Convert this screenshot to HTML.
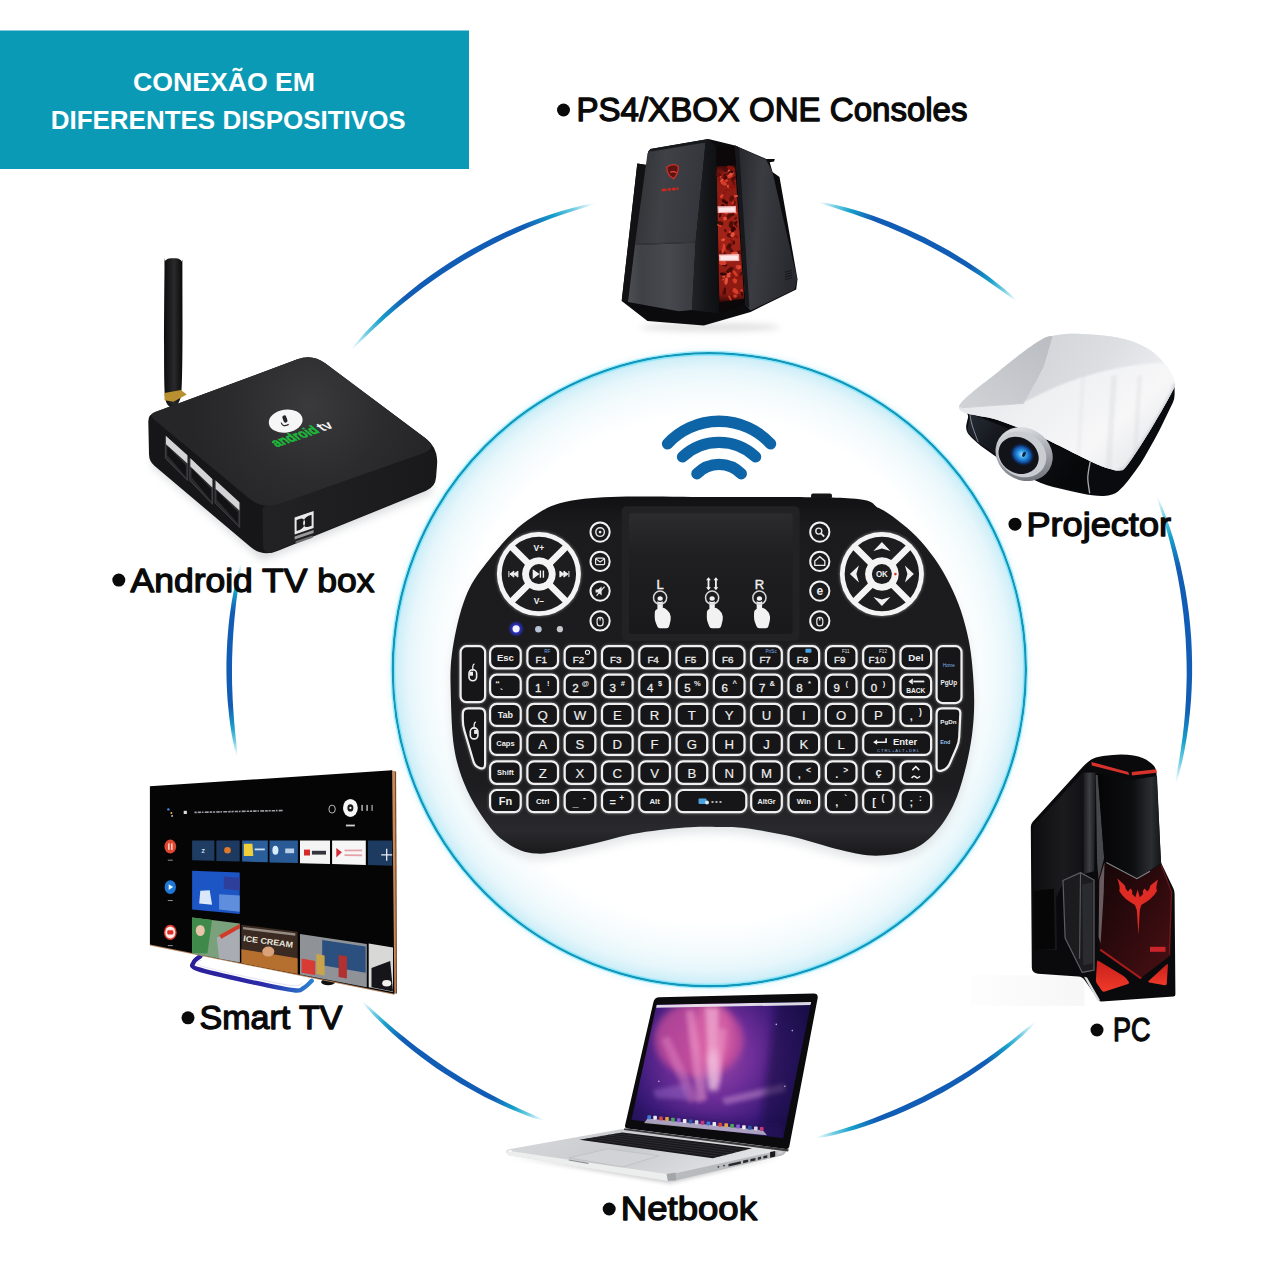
<!DOCTYPE html>
<html><head><meta charset="utf-8"><title>Conexão em diferentes dispositivos</title>
<style>html,body{margin:0;padding:0;background:#fff}body{width:1280px;height:1280px;overflow:hidden;font-family:"Liberation Sans",sans-serif}svg{display:block}text{font-family:"Liberation Sans",sans-serif}</style></head>
<body>
<svg width="1280" height="1280" viewBox="0 0 1280 1280">
<defs>
<linearGradient id="ag0" gradientUnits="userSpaceOnUse" x1="349.7" y1="351.6" x2="597.2" y2="202.9"><stop offset="0" stop-color="#7fd4ec" stop-opacity="0"/><stop offset="0.08" stop-color="#35b8d6" stop-opacity="0.7"/><stop offset="0.15" stop-color="#18a0cc"/><stop offset="0.26" stop-color="#115cb4"/><stop offset="0.74" stop-color="#115cb4"/><stop offset="0.85" stop-color="#18a0cc"/><stop offset="0.92" stop-color="#35b8d6" stop-opacity="0.7"/><stop offset="1" stop-color="#7fd4ec" stop-opacity="0"/></linearGradient>
<linearGradient id="ag1" gradientUnits="userSpaceOnUse" x1="817.3" y1="201.9" x2="1017.9" y2="301.9"><stop offset="0" stop-color="#7fd4ec" stop-opacity="0"/><stop offset="0.08" stop-color="#35b8d6" stop-opacity="0.7"/><stop offset="0.15" stop-color="#18a0cc"/><stop offset="0.26" stop-color="#115cb4"/><stop offset="0.74" stop-color="#115cb4"/><stop offset="0.85" stop-color="#18a0cc"/><stop offset="0.92" stop-color="#35b8d6" stop-opacity="0.7"/><stop offset="1" stop-color="#7fd4ec" stop-opacity="0"/></linearGradient>
<linearGradient id="ag2" gradientUnits="userSpaceOnUse" x1="1156" y1="493.7" x2="1175.1" y2="785.8"><stop offset="0" stop-color="#7fd4ec" stop-opacity="0"/><stop offset="0.08" stop-color="#35b8d6" stop-opacity="0.7"/><stop offset="0.15" stop-color="#18a0cc"/><stop offset="0.26" stop-color="#115cb4"/><stop offset="0.74" stop-color="#115cb4"/><stop offset="0.85" stop-color="#18a0cc"/><stop offset="0.92" stop-color="#35b8d6" stop-opacity="0.7"/><stop offset="1" stop-color="#7fd4ec" stop-opacity="0"/></linearGradient>
<linearGradient id="ag3" gradientUnits="userSpaceOnUse" x1="1036.7" y1="1020.8" x2="813.2" y2="1138.4"><stop offset="0" stop-color="#7fd4ec" stop-opacity="0"/><stop offset="0.08" stop-color="#35b8d6" stop-opacity="0.7"/><stop offset="0.15" stop-color="#18a0cc"/><stop offset="0.26" stop-color="#115cb4"/><stop offset="0.74" stop-color="#115cb4"/><stop offset="0.85" stop-color="#18a0cc"/><stop offset="0.92" stop-color="#35b8d6" stop-opacity="0.7"/><stop offset="1" stop-color="#7fd4ec" stop-opacity="0"/></linearGradient>
<linearGradient id="ag4" gradientUnits="userSpaceOnUse" x1="545.1" y1="1120.8" x2="361" y2="1000.2"><stop offset="0" stop-color="#7fd4ec" stop-opacity="0"/><stop offset="0.08" stop-color="#35b8d6" stop-opacity="0.7"/><stop offset="0.15" stop-color="#18a0cc"/><stop offset="0.26" stop-color="#115cb4"/><stop offset="0.74" stop-color="#115cb4"/><stop offset="0.85" stop-color="#18a0cc"/><stop offset="0.92" stop-color="#35b8d6" stop-opacity="0.7"/><stop offset="1" stop-color="#7fd4ec" stop-opacity="0"/></linearGradient>
<linearGradient id="ag5" gradientUnits="userSpaceOnUse" x1="237.2" y1="757.2" x2="241.5" y2="561.7"><stop offset="0" stop-color="#7fd4ec" stop-opacity="0"/><stop offset="0.08" stop-color="#35b8d6" stop-opacity="0.7"/><stop offset="0.15" stop-color="#18a0cc"/><stop offset="0.26" stop-color="#115cb4"/><stop offset="0.74" stop-color="#115cb4"/><stop offset="0.85" stop-color="#18a0cc"/><stop offset="0.92" stop-color="#35b8d6" stop-opacity="0.7"/><stop offset="1" stop-color="#7fd4ec" stop-opacity="0"/></linearGradient>
<radialGradient id="glow" gradientUnits="userSpaceOnUse" cx="709.3" cy="669.7" r="317"><stop offset="0" stop-color="#ffffff"/><stop offset="0.80" stop-color="#ffffff"/><stop offset="0.89" stop-color="#f4fbfd"/><stop offset="0.95" stop-color="#e6f6fb"/><stop offset="0.985" stop-color="#d0eff8"/><stop offset="1" stop-color="#b8e6f5"/></radialGradient>
<filter id="b2" x="-10%" y="-10%" width="120%" height="120%"><feGaussianBlur stdDeviation="2.2"/></filter>
<linearGradient id="kbg" x1="0" y1="0" x2="0" y2="1"><stop offset="0" stop-color="#111113"/><stop offset="0.08" stop-color="#1b1b1d"/><stop offset="0.8" stop-color="#1d1d20"/><stop offset="0.93" stop-color="#2a2a2e"/><stop offset="1" stop-color="#18181a"/></linearGradient>
<filter id="kshadow" x="-10%" y="-10%" width="120%" height="130%"><feGaussianBlur stdDeviation="5"/></filter>
<filter id="kglow" x="-20%" y="-20%" width="140%" height="140%"><feGaussianBlur stdDeviation="1.1"/></filter>
<linearGradient id="tpg" x1="0" y1="0" x2="0" y2="1"><stop offset="0" stop-color="#2c2c2f"/><stop offset="0.35" stop-color="#1f1f22"/><stop offset="1" stop-color="#19191b"/></linearGradient>
<linearGradient id="antg" x1="0" y1="0" x2="1" y2="0"><stop offset="0" stop-color="#0c0c0d"/><stop offset="0.55" stop-color="#2a2a2c"/><stop offset="1" stop-color="#0a0a0b"/></linearGradient>
<filter id="tbsh" x="-10%" y="-10%" width="120%" height="130%"><feGaussianBlur stdDeviation="4"/></filter>
<linearGradient id="tbfr" x1="0" y1="0" x2="1" y2="0"><stop offset="0" stop-color="#222224"/><stop offset="1" stop-color="#19191b"/></linearGradient>
<radialGradient id="tbtop" gradientUnits="userSpaceOnUse" cx="310" cy="406.3" r="120"><stop offset="0" stop-color="#3a3a3d"/><stop offset="0.6" stop-color="#2c2c2f"/><stop offset="1" stop-color="#262628"/></radialGradient>
<filter id="csh" x="-20%" y="-100%" width="140%" height="300%"><feGaussianBlur stdDeviation="3"/></filter>
<filter id="cb1" x="-20%" y="-20%" width="140%" height="140%"><feGaussianBlur stdDeviation="0.7"/></filter>
<linearGradient id="cg1" x1="0" y1="0" x2="1" y2="0.15"><stop offset="0" stop-color="#303135"/><stop offset="0.45" stop-color="#404146"/><stop offset="1" stop-color="#35363b"/></linearGradient>
<linearGradient id="cg2" x1="0" y1="0" x2="1" y2="0"><stop offset="0" stop-color="#4d4e53"/><stop offset="0.2" stop-color="#404146"/><stop offset="0.6" stop-color="#48494e"/><stop offset="1" stop-color="#393a3f"/></linearGradient>
<linearGradient id="cg4" x1="0" y1="0" x2="1" y2="0"><stop offset="0" stop-color="#222327"/><stop offset="0.5" stop-color="#16171a"/><stop offset="1" stop-color="#0e0f11"/></linearGradient>
<linearGradient id="cred" x1="0" y1="0" x2="0" y2="1"><stop offset="0" stop-color="#3a0907"/><stop offset="0.06" stop-color="#8a1a12"/><stop offset="0.5" stop-color="#a32318"/><stop offset="0.94" stop-color="#8a1a12"/><stop offset="1" stop-color="#3a0907"/></linearGradient>
<linearGradient id="cg3" x1="0" y1="0" x2="1" y2="0.25"><stop offset="0" stop-color="#24252a"/><stop offset="0.45" stop-color="#3b3c42"/><stop offset="1" stop-color="#2a2b30"/></linearGradient>
<filter id="pjb1" x="-20%" y="-20%" width="140%" height="140%"><feGaussianBlur stdDeviation="1.2"/></filter>
<linearGradient id="pjf" x1="0" y1="0" x2="1" y2="0.5"><stop offset="0" stop-color="#262c35"/><stop offset="0.35" stop-color="#13161b"/><stop offset="1" stop-color="#07080a"/></linearGradient>
<clipPath id="pjclip"><path d="M959 407.4C959 399.6 983.7 383.8 996.9 372.9C1010.1 361.9 1028.4 347.8 1038.1 341.6C1047.8 335.3 1047.8 336.7 1055 335.4C1062.2 334.1 1070.6 333.5 1081.2 333.9C1091.9 334.3 1107.8 335.4 1118.8 337.8C1129.7 340.2 1139.1 343.6 1146.9 348.1C1154.7 352.7 1161 359.3 1165.6 365C1170.2 370.7 1173.7 377.5 1174.6 382.2C1175.6 387 1175.6 385.1 1171.2 393.5C1166.9 401.9 1156.1 420.5 1148.8 432.5C1141.4 444.5 1132 459 1127.2 465.3C1122.3 471.6 1122.8 469.8 1119.7 470.4C1116.6 470.9 1113.4 470.1 1108.4 468.5C1103.4 466.9 1101.1 466.3 1089.7 461C1078.3 455.7 1055.5 443.5 1040 436.6C1024.5 429.8 1010.4 424.6 996.9 419.8C983.4 414.9 959 415.2 959 407.4Z"/></clipPath>
<linearGradient id="pjt" x1="0" y1="0" x2="1" y2="0.8"><stop offset="0" stop-color="#d2d4d8"/><stop offset="0.5" stop-color="#e9eaec"/><stop offset="1" stop-color="#f1f2f3"/></linearGradient>
<linearGradient id="pjl1" x1="0" y1="1" x2="1" y2="0"><stop offset="0" stop-color="#d2d4d8"/><stop offset="1" stop-color="#b8bbc0"/></linearGradient>
<linearGradient id="pjl2" x1="0" y1="0" x2="1" y2="0.3"><stop offset="0" stop-color="#cfd2d6"/><stop offset="0.6" stop-color="#dcdee2"/><stop offset="1" stop-color="#ecedef"/></linearGradient>
<linearGradient id="pjl3" x1="0" y1="0" x2="1" y2="0.6"><stop offset="0" stop-color="#dfe1e4"/><stop offset="0.4" stop-color="#eeeff1"/><stop offset="0.75" stop-color="#f7f7f8"/><stop offset="1" stop-color="#e6e7ea"/></linearGradient>
<linearGradient id="pjl" x1="0" y1="0" x2="1" y2="1"><stop offset="0" stop-color="#f4f5f6"/><stop offset="0.4" stop-color="#b4b8be"/><stop offset="1" stop-color="#5e6268"/></linearGradient>
<radialGradient id="pjb"><stop offset="0" stop-color="#a8e4ff"/><stop offset="0.35" stop-color="#2b9ae6"/><stop offset="0.7" stop-color="#10489a"/><stop offset="1" stop-color="#0c1a36" stop-opacity="0"/></radialGradient>
<filter id="pcb" x="-20%" y="-20%" width="140%" height="140%"><feGaussianBlur stdDeviation="0.8"/></filter>
<linearGradient id="pcs" x1="0" y1="0" x2="1" y2="0"><stop offset="0" stop-color="#fbfbfb"/><stop offset="1" stop-color="#ececec"/></linearGradient>
<linearGradient id="pcside" x1="0" y1="0" x2="1" y2="0"><stop offset="0" stop-color="#0e0e10"/><stop offset="0.6" stop-color="#1b1b1e"/><stop offset="1" stop-color="#121214"/></linearGradient>
<linearGradient id="pcbev" x1="0" y1="0" x2="1" y2="0"><stop offset="0" stop-color="#1a1a1d"/><stop offset="0.5" stop-color="#3e3f43"/><stop offset="1" stop-color="#18181a"/></linearGradient>
<linearGradient id="pcfu" x1="0" y1="0" x2="1" y2="0"><stop offset="0" stop-color="#050506"/><stop offset="0.55" stop-color="#0d0e10"/><stop offset="0.85" stop-color="#2b2d31"/><stop offset="1" stop-color="#141517"/></linearGradient>
<linearGradient id="pcfl" x1="0" y1="0" x2="1" y2="1"><stop offset="0" stop-color="#140607"/><stop offset="0.5" stop-color="#2e0a0d"/><stop offset="1" stop-color="#4a1014"/></linearGradient>
<linearGradient id="pcr" x1="0" y1="0" x2="0" y2="1"><stop offset="0" stop-color="#c81f1a"/><stop offset="1" stop-color="#f03a2a"/></linearGradient>
<linearGradient id="tvst" x1="0" y1="0" x2="1" y2="0"><stop offset="0" stop-color="#2a1f9a"/><stop offset="0.6" stop-color="#2b2aa8"/><stop offset="1" stop-color="#2c7fd0"/></linearGradient>
<filter id="lpb" x="-20%" y="-50%" width="140%" height="200%"><feGaussianBlur stdDeviation="2.2"/></filter>
<filter id="lpb2" x="-30%" y="-30%" width="160%" height="160%"><feGaussianBlur stdDeviation="3.5"/></filter>
<linearGradient id="lpbase" x1="0" y1="0" x2="1" y2="0.3"><stop offset="0" stop-color="#d9dadc"/><stop offset="0.5" stop-color="#c9cacd"/><stop offset="1" stop-color="#e4e5e7"/></linearGradient>
<clipPath id="lpclip"><path d="M656.5 1004.8L811.2 1001.9L783.1 1138.1L631.5 1119.8Z"/></clipPath>
<radialGradient id="lpd" gradientUnits="userSpaceOnUse" cx="711.9" cy="1055.5" r="105"><stop offset="0" stop-color="#a04aa8"/><stop offset="0.4" stop-color="#6d2d98"/><stop offset="0.75" stop-color="#3a1a78"/><stop offset="1" stop-color="#1e0f52"/></radialGradient>
</defs>
<rect x="0" y="30.5" width="469" height="138.5" fill="#0b9ab5"/>
<text x="224" y="91" font-size="26" font-weight="bold" fill="#fff" text-anchor="middle" textLength="182" lengthAdjust="spacingAndGlyphs">CONEXÃO EM</text>
<text x="228.2" y="128.7" font-size="26" font-weight="bold" fill="#fff" text-anchor="middle" textLength="355" lengthAdjust="spacingAndGlyphs">DIFERENTES DISPOSITIVOS</text>
<path d="M349.7 351.6L357.1 341.7L365.2 332.6L373.7 323.7L382.5 315.1L391.5 306.8L400.8 298.7L410.2 290.9L419.9 283.3L429.8 276L439.9 269L450.1 262.2L460.6 255.8L471.2 249.6L482 243.7L492.9 238.1L504 232.8L515.2 227.8L526.6 223.1L538.1 218.7L549.7 214.7L561.4 211L573.2 207.7L585.1 204.7L597.2 202.9L597.2 202.9L585.7 207L574.1 210.7L562.5 214.6L551 218.6L539.7 223L528.4 227.6L517.3 232.4L506.3 237.6L495.4 242.9L484.6 248.6L474 254.4L463.5 260.6L453.1 267L443 273.6L432.9 280.4L423.1 287.5L413.4 294.9L403.9 302.4L394.5 310.2L385.3 318.2L376.3 326.4L367.5 334.8L358.8 343.3L349.7 351.6Z" fill="url(#ag0)"/>
<path d="M817.3 201.9L826.8 203L836 205L845.2 207.3L854.3 209.8L863.4 212.6L872.4 215.6L881.3 218.7L890.1 222.1L898.9 225.7L907.6 229.4L916.2 233.4L924.8 237.5L933.2 241.9L941.6 246.4L949.8 251L957.9 255.9L966 261L973.9 266.2L981.7 271.6L989.3 277.1L996.8 282.9L1004.2 288.8L1011.4 295L1017.9 301.9L1017.9 301.9L1009.9 296.9L1002.3 291.3L994.6 285.9L986.9 280.5L979.1 275.3L971.2 270.2L963.3 265.3L955.2 260.4L947.1 255.7L938.9 251.2L930.6 246.8L922.3 242.5L913.8 238.4L905.4 234.5L896.8 230.7L888.2 227L879.5 223.5L870.7 220.1L861.9 216.9L853 213.8L844.1 210.9L835.2 208L826.2 205.3L817.3 201.9Z" fill="url(#ag1)"/>
<path d="M1156 493.7L1161.5 504.9L1166 516.5L1170.1 528.3L1173.8 540.2L1177.1 552.2L1180.2 564.2L1182.8 576.4L1185.2 588.6L1187.2 600.9L1188.9 613.3L1190.2 625.7L1191.2 638.1L1191.8 650.6L1192.1 663L1192.1 675.5L1191.7 688L1191 700.4L1189.9 712.8L1188.5 725.2L1186.7 737.5L1184.6 749.8L1182.1 762L1179.1 774L1175.1 785.8L1175.1 785.8L1176.8 773.5L1179 761.3L1180.9 749.1L1182.6 736.9L1184 724.7L1185.1 712.4L1185.9 700.1L1186.4 687.8L1186.7 675.4L1186.6 663.1L1186.2 650.8L1185.6 638.5L1184.6 626.2L1183.4 613.9L1181.8 601.7L1180 589.5L1177.9 577.4L1175.4 565.3L1172.7 553.3L1169.7 541.3L1166.5 529.4L1163 517.5L1159.3 505.7L1156 493.7Z" fill="url(#ag2)"/>
<path d="M1036.7 1020.8L1029.7 1028.9L1021.9 1036.2L1013.8 1043.3L1005.6 1050.1L997.2 1056.7L988.6 1063.1L979.9 1069.3L971 1075.3L962 1081.1L952.9 1086.6L943.6 1092L934.1 1097.1L924.6 1101.9L915 1106.6L905.2 1111L895.3 1115.2L885.4 1119.1L875.3 1122.8L865.2 1126.2L855 1129.4L844.7 1132.3L834.3 1134.9L823.9 1137.2L813.2 1138.4L813.2 1138.4L823.3 1134.8L833.5 1131.8L843.6 1128.7L853.7 1125.4L863.7 1121.9L873.7 1118.2L883.5 1114.3L893.3 1110.3L903 1106L912.6 1101.6L922.1 1096.9L931.5 1092.1L940.9 1087.1L950.1 1081.9L959.2 1076.5L968.2 1070.9L977.1 1065.1L985.8 1059.2L994.5 1053.1L1003 1046.8L1011.5 1040.4L1019.8 1033.8L1028.1 1027.1L1036.7 1020.8Z" fill="url(#ag3)"/>
<path d="M545.1 1120.8L536 1118.7L527.2 1115.7L518.6 1112.3L510 1108.8L501.5 1105L493.1 1101.1L484.7 1096.9L476.5 1092.6L468.4 1088.1L460.3 1083.4L452.4 1078.6L444.5 1073.5L436.8 1068.4L429.2 1063L421.7 1057.5L414.3 1051.8L407.1 1046L399.9 1040L393 1033.9L386.1 1027.6L379.4 1021.1L372.9 1014.5L366.6 1007.7L361 1000.2L361 1000.2L368.3 1006L375.1 1012.2L382 1018.4L388.9 1024.5L395.9 1030.4L403.1 1036.3L410.2 1042L417.5 1047.7L424.9 1053.1L432.4 1058.5L440 1063.8L447.6 1068.9L455.3 1073.8L463.2 1078.7L471.1 1083.4L479 1088L487.1 1092.4L495.2 1096.7L503.4 1100.9L511.7 1105L520 1108.9L528.4 1112.7L536.9 1116.5L545.1 1120.8Z" fill="url(#ag4)"/>
<path d="M237.2 757.2L234.6 749.3L233 741.2L231.5 733.1L230.3 725L229.2 716.8L228.4 708.6L227.6 700.4L227.1 692.2L226.7 683.9L226.5 675.7L226.4 667.4L226.5 659.2L226.8 650.9L227.2 642.7L227.8 634.4L228.5 626.2L229.4 618L230.5 609.9L231.7 601.7L233.2 593.6L234.7 585.5L236.5 577.4L238.6 569.5L241.5 561.7L241.5 561.7L240.9 570L239.6 578.1L238.4 586.1L237.3 594.2L236.2 602.3L235.3 610.5L234.5 618.6L233.8 626.7L233.2 634.8L232.7 643L232.4 651.1L232.1 659.3L232 667.4L232 675.6L232.1 683.8L232.4 691.9L232.7 700.1L233.2 708.2L233.8 716.4L234.4 724.5L235.2 732.6L236.1 740.8L237 748.9L237.2 757.2Z" fill="url(#ag5)"/>
<circle cx="709.3" cy="669.7" r="319" fill="none" stroke="#d4f0f9" stroke-width="5" filter="url(#b2)" opacity="0.35"/>
<circle cx="709.3" cy="669.7" r="316.5" fill="url(#glow)"/>
<circle cx="709.3" cy="669.7" r="316.5" fill="none" stroke="#1297bb" stroke-width="2.5"/><circle cx="709.3" cy="669.7" r="314.7" fill="none" stroke="#7fe6fa" stroke-width="1.3" opacity="0.85"/><circle cx="709.3" cy="669.7" r="318.3" fill="none" stroke="#8feafc" stroke-width="1.2" opacity="0.8"/>
<g fill="none" stroke="#0d64a6" stroke-width="11.3" stroke-linecap="round"><path d="M667.5 443.8 A70.2 70.2 0 0 1 770.6 443.8"/><path d="M682.5 456.9 A53.4 53.4 0 0 1 755.6 456.9"/><path d="M696.9 473.8 A30.9 30.9 0 0 1 741.3 473.8"/></g>
<path d="M584.4 498.8C616.5 494.9 675.5 497.1 720 497.1C764.5 497 824.8 496.6 851.2 498.4C877.7 500.2 871.1 504.4 878.8 508C886.5 511.6 891.4 515.5 897.6 520.2C903.9 525 910.2 530 916.4 536.4C922.6 542.9 929.2 550.7 934.8 558.8C940.4 566.8 945.8 576.2 950.1 585C954.5 593.8 958 602.2 961.1 611.2C964.1 620.3 966.6 629.9 968.5 639.2C970.4 648.6 971.5 656.6 972.4 667.2C973.4 677.9 974.3 691.8 974.2 703.1C974.1 714.4 973.5 723.8 972 735.1C970.5 746.3 968.1 758.8 965 770.5C961.9 782.2 958.3 795 953.2 805.5C948.1 816 941.4 826.1 934.4 833.5C927.3 840.9 920.5 846.4 910.8 850.1C901 853.8 887.4 855.8 875.8 855.8C864.1 855.8 854.4 853.3 840.8 850.1C827.1 847 809.7 840.6 793.9 837C778.2 833.4 758.6 829.9 746.2 828.2C733.9 826.6 730.2 827.1 720 826.9C709.8 826.8 699.6 826.2 685 827.4C670.4 828.5 649.3 830.9 632.5 833.9C615.7 837 600.4 842.5 584.4 845.8C568.3 849 549.7 854.5 536.2 853.6C522.8 852.8 512.8 847.2 503.4 840.5C494.1 833.8 486.9 823.1 480.2 813.4C473.6 803.6 468 793 463.6 781.9C459.2 770.8 456.1 760.7 454 746.9C451.9 733 451.3 714.1 450.9 698.8C450.6 683.4 449.7 671 451.8 655C453.9 639 458.3 617.2 463.6 602.5C468.9 587.8 473.1 580.3 483.8 566.6C494.4 552.9 510.7 531.6 527.5 520.2C544.3 508.9 552.3 502.7 584.4 498.8Z" fill="#9aa4aa" opacity="0.28" transform="translate(0,6)" filter="url(#kshadow)"/>
<path d="M584.4 498.8C616.5 494.9 675.5 497.1 720 497.1C764.5 497 824.8 496.6 851.2 498.4C877.7 500.2 871.1 504.4 878.8 508C886.5 511.6 891.4 515.5 897.6 520.2C903.9 525 910.2 530 916.4 536.4C922.6 542.9 929.2 550.7 934.8 558.8C940.4 566.8 945.8 576.2 950.1 585C954.5 593.8 958 602.2 961.1 611.2C964.1 620.3 966.6 629.9 968.5 639.2C970.4 648.6 971.5 656.6 972.4 667.2C973.4 677.9 974.3 691.8 974.2 703.1C974.1 714.4 973.5 723.8 972 735.1C970.5 746.3 968.1 758.8 965 770.5C961.9 782.2 958.3 795 953.2 805.5C948.1 816 941.4 826.1 934.4 833.5C927.3 840.9 920.5 846.4 910.8 850.1C901 853.8 887.4 855.8 875.8 855.8C864.1 855.8 854.4 853.3 840.8 850.1C827.1 847 809.7 840.6 793.9 837C778.2 833.4 758.6 829.9 746.2 828.2C733.9 826.6 730.2 827.1 720 826.9C709.8 826.8 699.6 826.2 685 827.4C670.4 828.5 649.3 830.9 632.5 833.9C615.7 837 600.4 842.5 584.4 845.8C568.3 849 549.7 854.5 536.2 853.6C522.8 852.8 512.8 847.2 503.4 840.5C494.1 833.8 486.9 823.1 480.2 813.4C473.6 803.6 468 793 463.6 781.9C459.2 770.8 456.1 760.7 454 746.9C451.9 733 451.3 714.1 450.9 698.8C450.6 683.4 449.7 671 451.8 655C453.9 639 458.3 617.2 463.6 602.5C468.9 587.8 473.1 580.3 483.8 566.6C494.4 552.9 510.7 531.6 527.5 520.2C544.3 508.9 552.3 502.7 584.4 498.8Z" fill="url(#kbg)"/>
<rect x="811" y="493.6" width="21" height="5" rx="2" fill="#151517"/>
<rect x="621.6" y="506.2" width="178.1" height="134.8" rx="5" fill="#222224"/>
<rect x="629" y="513.2" width="163.6" height="120.8" rx="3" fill="url(#tpg)"/>
<g fill="#f2f2f2"><path d="M654.8 612.2Q654.9 609.7 657.3 609L660.7 608Q663.6 607.2 665.8 609.1L667.5 610.6Q670.6 613.2 670.7 616.4L670.7 616.7Q670.9 619.7 670.1 622.6L669.1 626.3Q668.6 628.2 666.6 628.2L659.9 628.2Q657.9 628.2 657.2 626.3L655.7 622.5Q654.7 619.7 654.7 616.7Z"/><rect x="657.4" y="596.2" width="5.4" height="16" rx="2.7"/></g><circle cx="660.1" cy="597.7" r="6.6" fill="none" stroke="#d8d8d8" stroke-width="1.5"/><circle cx="660.1" cy="597.7" r="3.6" fill="none" stroke="#1c1c1e" stroke-width="1.2"/><text x="660.1" y="589.2" font-size="13" fill="#f2f2f2" stroke="#f2f2f2" stroke-width="0.4" text-anchor="middle">L</text>
<g fill="#f2f2f2"><path d="M706.9 612.2Q706.9 609.7 709.3 609L712.7 608Q715.6 607.2 717.9 609.1L719.6 610.6Q722.6 613.2 722.8 616.4L722.8 616.7Q722.9 619.7 722.1 622.6L721.1 626.3Q720.6 628.2 718.6 628.2L711.9 628.2Q709.9 628.2 709.2 626.3L707.8 622.5Q706.7 619.7 706.8 616.7Z"/><rect x="709.4" y="596.2" width="5.4" height="16" rx="2.7"/></g><circle cx="712.1" cy="597.7" r="6.6" fill="none" stroke="#d8d8d8" stroke-width="1.5"/><circle cx="712.1" cy="597.7" r="3.6" fill="none" stroke="#1c1c1e" stroke-width="1.2"/><path d="M708.5 588.7v-10M715.9 588.7v-10" stroke="#f2f2f2" stroke-width="1.8" fill="none"/><path d="M706.1 580.2l2.4 -3l2.4 3zM706.1 587.2l2.4 3l2.4 -3zM713.5 580.2l2.4 -3l2.4 3zM713.5 587.2l2.4 3l2.4 -3z" fill="#f2f2f2"/>
<g fill="#f2f2f2"><path d="M754.1 612.2Q754.2 609.7 756.6 609L760 608Q762.9 607.2 765.2 609.1L766.8 610.6Q769.9 613.2 770 616.4L770 616.7Q770.2 619.7 769.4 622.6L768.4 626.3Q767.9 628.2 765.9 628.2L759.2 628.2Q757.2 628.2 756.5 626.3L755 622.5Q754 619.7 754 616.7Z"/><rect x="756.7" y="596.2" width="5.4" height="16" rx="2.7"/></g><circle cx="759.4" cy="597.7" r="6.6" fill="none" stroke="#d8d8d8" stroke-width="1.5"/><circle cx="759.4" cy="597.7" r="3.6" fill="none" stroke="#1c1c1e" stroke-width="1.2"/><text x="759.4" y="589.2" font-size="13" fill="#f2f2f2" stroke="#f2f2f2" stroke-width="0.4" text-anchor="middle">R</text>
<circle cx="538.9" cy="574.1" r="43" fill="#fff" opacity="0.25" filter="url(#kglow)"/><circle cx="538.9" cy="574.1" r="42" fill="#f4f4f4"/><path d="M567.4 550.2 A37.2 37.2 0 0 1 567.4 597.9 L552.9 583.4 A16.8 16.8 0 0 0 552.9 564.7Z" fill="#1d1d20"/><path d="M562.7 602.6 A37.2 37.2 0 0 1 515 602.6 L529.6 588 A16.8 16.8 0 0 0 548.2 588Z" fill="#1d1d20"/><path d="M510.3 597.9 A37.2 37.2 0 0 1 510.3 550.2 L524.9 564.7 A16.8 16.8 0 0 0 524.9 583.4Z" fill="#1d1d20"/><path d="M515 545.5 A37.2 37.2 0 0 1 562.7 545.5 L548.2 560.1 A16.8 16.8 0 0 0 529.6 560.1Z" fill="#1d1d20"/><circle cx="538.9" cy="574.1" r="10" fill="#1d1d20"/><text x="538.9" y="550.6" font-size="8.5" font-weight="bold" fill="#f0f0f0" text-anchor="middle">V+</text><text x="538.9" y="603.6" font-size="8.5" font-weight="bold" fill="#f0f0f0" text-anchor="middle">V–</text><path d="M509.9 574.1l4 -3v6zM513.9 574.1l4 -3v6zM508.9 571.1v6" fill="#f0f0f0" stroke="#f0f0f0" stroke-width="1"/><path d="M567.9 574.1l-4 -3v6zM563.9 574.1l-4 -3v6zM568.9 571.1v6" fill="#f0f0f0" stroke="#f0f0f0" stroke-width="1"/><path d="M533.4 570.5l5 3.6l-5 3.6zM540.4 570.5v7.2M543.4 570.5v7.2" fill="#f0f0f0" stroke="#f0f0f0" stroke-width="1.4"/>
<circle cx="881.9" cy="574.1" r="43" fill="#fff" opacity="0.25" filter="url(#kglow)"/><circle cx="881.9" cy="574.1" r="42" fill="#f4f4f4"/><path d="M910.4 550.2 A37.2 37.2 0 0 1 910.4 597.9 L895.9 583.4 A16.8 16.8 0 0 0 895.9 564.7Z" fill="#1d1d20"/><path d="M905.7 602.6 A37.2 37.2 0 0 1 858 602.6 L872.6 588 A16.8 16.8 0 0 0 891.2 588Z" fill="#1d1d20"/><path d="M853.3 597.9 A37.2 37.2 0 0 1 853.3 550.2 L867.9 564.7 A16.8 16.8 0 0 0 867.9 583.4Z" fill="#1d1d20"/><path d="M858 545.5 A37.2 37.2 0 0 1 905.7 545.5 L891.2 560.1 A16.8 16.8 0 0 0 872.6 560.1Z" fill="#1d1d20"/><circle cx="881.9" cy="574.1" r="10" fill="#1d1d20"/><text x="881.9" y="577.4" font-size="9" font-weight="bold" fill="#f0f0f0" text-anchor="middle" textLength="12" lengthAdjust="spacingAndGlyphs">OK</text><path d="M881.9 542.1l8.5 9l-8.5 -2.5l-8.5 2.5zM881.9 606.1l8.5 -9l-8.5 2.5l-8.5 -2.5zM849.9 574.1l9 -8.5l-2.5 8.5l2.5 8.5zM913.9 574.1l-9 -8.5l2.5 8.5l-2.5 8.5z" fill="#f0f0f0"/><circle cx="895.4" cy="574.1" r="1.3" fill="#d23a2a"/>
<circle cx="600.1" cy="532.1" r="9.6" fill="#1b1b1d" stroke="#f2f2f2" stroke-width="2"/><circle cx="600.1" cy="532.1" r="4.3" fill="none" stroke="#e8e8e8" stroke-width="1.4"/><circle cx="600.1" cy="532.1" r="1.4" fill="#e8e8e8"/>
<circle cx="600.1" cy="561.4" r="9.6" fill="#1b1b1d" stroke="#f2f2f2" stroke-width="2"/><rect x="595.6" y="558.2" width="9" height="6.4" rx="1" fill="none" stroke="#e8e8e8" stroke-width="1.2"/><path d="M595.6 558.6l4.5 3.4l4.5 -3.4" fill="none" stroke="#e8e8e8" stroke-width="1.1"/>
<circle cx="600.1" cy="591.1" r="9.6" fill="#1b1b1d" stroke="#f2f2f2" stroke-width="2"/><path d="M595.6 589.6h2.5l3.5 -3v9l-3.5 -3h-2.5z" fill="#e8e8e8"/><path d="M604.6 586.6l-8 9" stroke="#e8e8e8" stroke-width="1.2"/>
<circle cx="600.1" cy="620.9" r="9.6" fill="#1b1b1d" stroke="#f2f2f2" stroke-width="2"/><rect x="597.1" y="617.3" width="6" height="8.6" rx="3" fill="none" stroke="#e8e8e8" stroke-width="1.2"/><path d="M600.1 617.3v3.2" stroke="#e8e8e8" stroke-width="1.2"/>
<circle cx="819.8" cy="532.1" r="9.6" fill="#1b1b1d" stroke="#f2f2f2" stroke-width="2"/><circle cx="818.8" cy="531.1" r="3" fill="none" stroke="#e8e8e8" stroke-width="1.4"/><path d="M821 533.4l3.2 3.2" stroke="#e8e8e8" stroke-width="1.8"/>
<circle cx="819.8" cy="561.4" r="9.6" fill="#1b1b1d" stroke="#f2f2f2" stroke-width="2"/><path d="M814.8 560.9l5 -4.2l5 4.2v4.5h-10z" fill="none" stroke="#e8e8e8" stroke-width="1.3"/>
<circle cx="819.8" cy="591.1" r="9.6" fill="#1b1b1d" stroke="#f2f2f2" stroke-width="2"/><text x="819.8" y="594.7" font-size="12" font-weight="bold" fill="#e8e8e8" text-anchor="middle">e</text>
<circle cx="819.8" cy="620.9" r="9.6" fill="#1b1b1d" stroke="#f2f2f2" stroke-width="2"/><rect x="816.8" y="617.3" width="6" height="8.6" rx="3" fill="none" stroke="#e8e8e8" stroke-width="1.2"/><path d="M819.8 617.3v3.2" stroke="#e8e8e8" stroke-width="1.2"/>
<circle cx="516.1" cy="628.8" r="6.5" fill="#2a33d8" opacity="0.85" filter="url(#kglow)"/><circle cx="516.1" cy="628.8" r="3.6" fill="#f4f4ff"/>
<circle cx="538.4" cy="629.2" r="3.3" fill="#b9c3d6"/>
<circle cx="559.9" cy="629.2" r="3.1" fill="#c8c8cc"/>
<g fill="none" stroke="#fff" stroke-width="3.4" opacity="0.3" filter="url(#kglow)"><rect x="490.1" y="646.2" width="30.6" height="22.1" rx="6.5"/><rect x="527.4" y="646.2" width="30.6" height="22.1" rx="6.5"/><rect x="564.7" y="646.2" width="30.6" height="22.1" rx="6.5"/><rect x="602" y="646.2" width="30.6" height="22.1" rx="6.5"/><rect x="639.3" y="646.2" width="30.6" height="22.1" rx="6.5"/><rect x="676.6" y="646.2" width="30.6" height="22.1" rx="6.5"/><rect x="713.9" y="646.2" width="30.6" height="22.1" rx="6.5"/><rect x="751.2" y="646.2" width="30.6" height="22.1" rx="6.5"/><rect x="788.5" y="646.2" width="30.6" height="22.1" rx="6.5"/><rect x="825.9" y="646.2" width="30.6" height="22.1" rx="6.5"/><rect x="863.2" y="646.2" width="30.6" height="22.1" rx="6.5"/><rect x="900.5" y="646.2" width="30.6" height="22.1" rx="6.5"/><rect x="490.1" y="674.7" width="30.6" height="22.5" rx="6.5"/><rect x="527.4" y="674.7" width="30.6" height="22.5" rx="6.5"/><rect x="564.7" y="674.7" width="30.6" height="22.5" rx="6.5"/><rect x="602" y="674.7" width="30.6" height="22.5" rx="6.5"/><rect x="639.3" y="674.7" width="30.6" height="22.5" rx="6.5"/><rect x="676.6" y="674.7" width="30.6" height="22.5" rx="6.5"/><rect x="713.9" y="674.7" width="30.6" height="22.5" rx="6.5"/><rect x="751.2" y="674.7" width="30.6" height="22.5" rx="6.5"/><rect x="788.5" y="674.7" width="30.6" height="22.5" rx="6.5"/><rect x="825.9" y="674.7" width="30.6" height="22.5" rx="6.5"/><rect x="863.2" y="674.7" width="30.6" height="22.5" rx="6.5"/><rect x="900.5" y="674.7" width="30.6" height="22.5" rx="6.5"/><rect x="490.1" y="703.8" width="30.6" height="22.1" rx="6.5"/><rect x="527.4" y="703.8" width="30.6" height="22.1" rx="6.5"/><rect x="564.7" y="703.8" width="30.6" height="22.1" rx="6.5"/><rect x="602" y="703.8" width="30.6" height="22.1" rx="6.5"/><rect x="639.3" y="703.8" width="30.6" height="22.1" rx="6.5"/><rect x="676.6" y="703.8" width="30.6" height="22.1" rx="6.5"/><rect x="713.9" y="703.8" width="30.6" height="22.1" rx="6.5"/><rect x="751.2" y="703.8" width="30.6" height="22.1" rx="6.5"/><rect x="788.5" y="703.8" width="30.6" height="22.1" rx="6.5"/><rect x="825.9" y="703.8" width="30.6" height="22.1" rx="6.5"/><rect x="863.2" y="703.8" width="30.6" height="22.1" rx="6.5"/><rect x="900.5" y="703.8" width="30.6" height="22.1" rx="6.5"/><rect x="490.1" y="732.4" width="30.6" height="22.5" rx="6.5"/><rect x="527.4" y="732.4" width="30.6" height="22.5" rx="6.5"/><rect x="564.7" y="732.4" width="30.6" height="22.5" rx="6.5"/><rect x="602" y="732.4" width="30.6" height="22.5" rx="6.5"/><rect x="639.3" y="732.4" width="30.6" height="22.5" rx="6.5"/><rect x="676.6" y="732.4" width="30.6" height="22.5" rx="6.5"/><rect x="713.9" y="732.4" width="30.6" height="22.5" rx="6.5"/><rect x="751.2" y="732.4" width="30.6" height="22.5" rx="6.5"/><rect x="788.5" y="732.4" width="30.6" height="22.5" rx="6.5"/><rect x="825.9" y="732.4" width="30.6" height="22.5" rx="6.5"/><rect x="863.2" y="732.4" width="67.9" height="22.5" rx="6.5"/><rect x="490.1" y="761.3" width="30.6" height="22.5" rx="6.5"/><rect x="527.4" y="761.3" width="30.6" height="22.5" rx="6.5"/><rect x="564.7" y="761.3" width="30.6" height="22.5" rx="6.5"/><rect x="602" y="761.3" width="30.6" height="22.5" rx="6.5"/><rect x="639.3" y="761.3" width="30.6" height="22.5" rx="6.5"/><rect x="676.6" y="761.3" width="30.6" height="22.5" rx="6.5"/><rect x="713.9" y="761.3" width="30.6" height="22.5" rx="6.5"/><rect x="751.2" y="761.3" width="30.6" height="22.5" rx="6.5"/><rect x="788.5" y="761.3" width="30.6" height="22.5" rx="6.5"/><rect x="825.9" y="761.3" width="30.6" height="22.5" rx="6.5"/><rect x="863.2" y="761.3" width="30.6" height="22.5" rx="6.5"/><rect x="900.5" y="761.3" width="30.6" height="22.5" rx="6.5"/><rect x="490.1" y="790" width="30.6" height="22.1" rx="6.5"/><rect x="527.4" y="790" width="30.6" height="22.1" rx="6.5"/><rect x="564.7" y="790" width="30.6" height="22.1" rx="6.5"/><rect x="602" y="790" width="30.6" height="22.1" rx="6.5"/><rect x="639.3" y="790" width="30.6" height="22.1" rx="6.5"/><rect x="676.6" y="790" width="69.7" height="22.1" rx="6.5"/><rect x="751.2" y="790" width="30.6" height="22.1" rx="6.5"/><rect x="788.5" y="790" width="30.6" height="22.1" rx="6.5"/><rect x="825.9" y="790" width="30.6" height="22.1" rx="6.5"/><rect x="863.2" y="790" width="30.6" height="22.1" rx="6.5"/><rect x="900.5" y="790" width="30.6" height="22.1" rx="6.5"/><rect x="460.6" y="646.2" width="24.5" height="56" rx="6"/><rect x="936.6" y="646.2" width="24.9" height="56.9" rx="6"/><path d="M462.8 713.9Q462.8 708.4 468.2 708.4L479.6 708.4Q485.1 708.4 485.1 713.9L485.1 764.1Q485.1 769.6 480 768.1L480 768.1Q475 766.6 473.4 761.3L464.3 730.3Q462.8 725 462.8 719.5Z"/><path d="M936.6 713.9Q936.6 708.4 942.1 708.4L955.1 708.4Q960.6 708.4 960.3 713.9L959.2 737Q958.9 742.5 956.7 747.5L949.7 763.7Q947.5 768.8 942.3 770.4L941.8 770.6Q936.6 772.2 936.6 766.8Z"/></g>
<g fill="#161618" stroke="#f0f0f0" stroke-width="2.2"><rect x="490.1" y="646.2" width="30.6" height="22.1" rx="6.5"/><rect x="527.4" y="646.2" width="30.6" height="22.1" rx="6.5"/><rect x="564.7" y="646.2" width="30.6" height="22.1" rx="6.5"/><rect x="602" y="646.2" width="30.6" height="22.1" rx="6.5"/><rect x="639.3" y="646.2" width="30.6" height="22.1" rx="6.5"/><rect x="676.6" y="646.2" width="30.6" height="22.1" rx="6.5"/><rect x="713.9" y="646.2" width="30.6" height="22.1" rx="6.5"/><rect x="751.2" y="646.2" width="30.6" height="22.1" rx="6.5"/><rect x="788.5" y="646.2" width="30.6" height="22.1" rx="6.5"/><rect x="825.9" y="646.2" width="30.6" height="22.1" rx="6.5"/><rect x="863.2" y="646.2" width="30.6" height="22.1" rx="6.5"/><rect x="900.5" y="646.2" width="30.6" height="22.1" rx="6.5"/><rect x="490.1" y="674.7" width="30.6" height="22.5" rx="6.5"/><rect x="527.4" y="674.7" width="30.6" height="22.5" rx="6.5"/><rect x="564.7" y="674.7" width="30.6" height="22.5" rx="6.5"/><rect x="602" y="674.7" width="30.6" height="22.5" rx="6.5"/><rect x="639.3" y="674.7" width="30.6" height="22.5" rx="6.5"/><rect x="676.6" y="674.7" width="30.6" height="22.5" rx="6.5"/><rect x="713.9" y="674.7" width="30.6" height="22.5" rx="6.5"/><rect x="751.2" y="674.7" width="30.6" height="22.5" rx="6.5"/><rect x="788.5" y="674.7" width="30.6" height="22.5" rx="6.5"/><rect x="825.9" y="674.7" width="30.6" height="22.5" rx="6.5"/><rect x="863.2" y="674.7" width="30.6" height="22.5" rx="6.5"/><rect x="900.5" y="674.7" width="30.6" height="22.5" rx="6.5"/><rect x="490.1" y="703.8" width="30.6" height="22.1" rx="6.5"/><rect x="527.4" y="703.8" width="30.6" height="22.1" rx="6.5"/><rect x="564.7" y="703.8" width="30.6" height="22.1" rx="6.5"/><rect x="602" y="703.8" width="30.6" height="22.1" rx="6.5"/><rect x="639.3" y="703.8" width="30.6" height="22.1" rx="6.5"/><rect x="676.6" y="703.8" width="30.6" height="22.1" rx="6.5"/><rect x="713.9" y="703.8" width="30.6" height="22.1" rx="6.5"/><rect x="751.2" y="703.8" width="30.6" height="22.1" rx="6.5"/><rect x="788.5" y="703.8" width="30.6" height="22.1" rx="6.5"/><rect x="825.9" y="703.8" width="30.6" height="22.1" rx="6.5"/><rect x="863.2" y="703.8" width="30.6" height="22.1" rx="6.5"/><rect x="900.5" y="703.8" width="30.6" height="22.1" rx="6.5"/><rect x="490.1" y="732.4" width="30.6" height="22.5" rx="6.5"/><rect x="527.4" y="732.4" width="30.6" height="22.5" rx="6.5"/><rect x="564.7" y="732.4" width="30.6" height="22.5" rx="6.5"/><rect x="602" y="732.4" width="30.6" height="22.5" rx="6.5"/><rect x="639.3" y="732.4" width="30.6" height="22.5" rx="6.5"/><rect x="676.6" y="732.4" width="30.6" height="22.5" rx="6.5"/><rect x="713.9" y="732.4" width="30.6" height="22.5" rx="6.5"/><rect x="751.2" y="732.4" width="30.6" height="22.5" rx="6.5"/><rect x="788.5" y="732.4" width="30.6" height="22.5" rx="6.5"/><rect x="825.9" y="732.4" width="30.6" height="22.5" rx="6.5"/><rect x="863.2" y="732.4" width="67.9" height="22.5" rx="6.5"/><rect x="490.1" y="761.3" width="30.6" height="22.5" rx="6.5"/><rect x="527.4" y="761.3" width="30.6" height="22.5" rx="6.5"/><rect x="564.7" y="761.3" width="30.6" height="22.5" rx="6.5"/><rect x="602" y="761.3" width="30.6" height="22.5" rx="6.5"/><rect x="639.3" y="761.3" width="30.6" height="22.5" rx="6.5"/><rect x="676.6" y="761.3" width="30.6" height="22.5" rx="6.5"/><rect x="713.9" y="761.3" width="30.6" height="22.5" rx="6.5"/><rect x="751.2" y="761.3" width="30.6" height="22.5" rx="6.5"/><rect x="788.5" y="761.3" width="30.6" height="22.5" rx="6.5"/><rect x="825.9" y="761.3" width="30.6" height="22.5" rx="6.5"/><rect x="863.2" y="761.3" width="30.6" height="22.5" rx="6.5"/><rect x="900.5" y="761.3" width="30.6" height="22.5" rx="6.5"/><rect x="490.1" y="790" width="30.6" height="22.1" rx="6.5"/><rect x="527.4" y="790" width="30.6" height="22.1" rx="6.5"/><rect x="564.7" y="790" width="30.6" height="22.1" rx="6.5"/><rect x="602" y="790" width="30.6" height="22.1" rx="6.5"/><rect x="639.3" y="790" width="30.6" height="22.1" rx="6.5"/><rect x="676.6" y="790" width="69.7" height="22.1" rx="6.5"/><rect x="751.2" y="790" width="30.6" height="22.1" rx="6.5"/><rect x="788.5" y="790" width="30.6" height="22.1" rx="6.5"/><rect x="825.9" y="790" width="30.6" height="22.1" rx="6.5"/><rect x="863.2" y="790" width="30.6" height="22.1" rx="6.5"/><rect x="900.5" y="790" width="30.6" height="22.1" rx="6.5"/><rect x="460.6" y="646.2" width="24.5" height="56" rx="6"/><rect x="936.6" y="646.2" width="24.9" height="56.9" rx="6"/><path d="M462.8 713.9Q462.8 708.4 468.2 708.4L479.6 708.4Q485.1 708.4 485.1 713.9L485.1 764.1Q485.1 769.6 480 768.1L480 768.1Q475 766.6 473.4 761.3L464.3 730.3Q462.8 725 462.8 719.5Z"/><path d="M936.6 713.9Q936.6 708.4 942.1 708.4L955.1 708.4Q960.6 708.4 960.3 713.9L959.2 737Q958.9 742.5 956.7 747.5L949.7 763.7Q947.5 768.8 942.3 770.4L941.8 770.6Q936.6 772.2 936.6 766.8Z"/></g>
<g fill="#eeeeee"><text x="505.4" y="660.7" font-size="9.5" font-weight="bold" text-anchor="middle">Esc</text><text x="541.2" y="662.8" font-size="9.8" text-anchor="middle" stroke="#eee" stroke-width="0.3">F1</text><text x="547.2" y="652.8" font-size="4.6" fill="#7fb0e8" text-anchor="middle">RF</text><text x="578.5" y="662.8" font-size="9.8" text-anchor="middle" stroke="#eee" stroke-width="0.3">F2</text><circle cx="587.5" cy="652.3" r="2.1" fill="none" stroke="#eee" stroke-width="1.1"/><text x="615.8" y="662.8" font-size="9.8" text-anchor="middle" stroke="#eee" stroke-width="0.3">F3</text><text x="653.1" y="662.8" font-size="9.8" text-anchor="middle" stroke="#eee" stroke-width="0.3">F4</text><text x="690.4" y="662.8" font-size="9.8" text-anchor="middle" stroke="#eee" stroke-width="0.3">F5</text><text x="727.7" y="662.8" font-size="9.8" text-anchor="middle" stroke="#eee" stroke-width="0.3">F6</text><text x="765.1" y="662.8" font-size="9.8" text-anchor="middle" stroke="#eee" stroke-width="0.3">F7</text><text x="771.1" y="652.8" font-size="4.6" fill="#7fb0e8" text-anchor="middle">PrtSc</text><text x="802.4" y="662.8" font-size="9.8" text-anchor="middle" stroke="#eee" stroke-width="0.3">F8</text><rect x="805.4" y="648.8" width="6" height="4" rx="0.8" fill="#4aa3e0"/><text x="839.7" y="662.8" font-size="9.8" text-anchor="middle" stroke="#eee" stroke-width="0.3">F9</text><text x="845.7" y="652.8" font-size="4.6" fill="#e8e8e8" text-anchor="middle">F11</text><text x="877" y="662.8" font-size="9.8" text-anchor="middle" stroke="#eee" stroke-width="0.3">F10</text><text x="883" y="652.8" font-size="4.6" fill="#e8e8e8" text-anchor="middle">F12</text><text x="915.8" y="660.8" font-size="9.8" font-weight="bold" text-anchor="middle">Del</text><text x="497.4" y="687" font-size="9" font-weight="bold" text-anchor="middle">“</text><text x="501.4" y="695" font-size="9" font-weight="bold" text-anchor="middle">`</text><text x="538.2" y="692" font-size="11.5" text-anchor="middle" stroke="#eee" stroke-width="0.3">1</text><text x="548.2" y="685.5" font-size="7.5" font-weight="bold" text-anchor="middle">!</text><text x="575.5" y="692" font-size="11.5" text-anchor="middle" stroke="#eee" stroke-width="0.3">2</text><text x="585.5" y="685.5" font-size="7.5" font-weight="bold" text-anchor="middle">@</text><text x="612.8" y="692" font-size="11.5" text-anchor="middle" stroke="#eee" stroke-width="0.3">3</text><text x="622.8" y="685.5" font-size="7.5" font-weight="bold" text-anchor="middle">#</text><text x="650.1" y="692" font-size="11.5" text-anchor="middle" stroke="#eee" stroke-width="0.3">4</text><text x="660.1" y="685.5" font-size="7.5" font-weight="bold" text-anchor="middle">$</text><text x="687.4" y="692" font-size="11.5" text-anchor="middle" stroke="#eee" stroke-width="0.3">5</text><text x="697.4" y="685.5" font-size="7.5" font-weight="bold" text-anchor="middle">%</text><text x="724.7" y="692" font-size="11.5" text-anchor="middle" stroke="#eee" stroke-width="0.3">6</text><text x="734.7" y="685.5" font-size="7.5" font-weight="bold" text-anchor="middle">^</text><text x="762.1" y="692" font-size="11.5" text-anchor="middle" stroke="#eee" stroke-width="0.3">7</text><text x="772.1" y="685.5" font-size="7.5" font-weight="bold" text-anchor="middle">&amp;</text><text x="799.4" y="692" font-size="11.5" text-anchor="middle" stroke="#eee" stroke-width="0.3">8</text><text x="809.4" y="685.5" font-size="7.5" font-weight="bold" text-anchor="middle">*</text><text x="836.7" y="692" font-size="11.5" text-anchor="middle" stroke="#eee" stroke-width="0.3">9</text><text x="846.7" y="685.5" font-size="7.5" font-weight="bold" text-anchor="middle">(</text><text x="874" y="692" font-size="11.5" text-anchor="middle" stroke="#eee" stroke-width="0.3">0</text><text x="884" y="685.5" font-size="7.5" font-weight="bold" text-anchor="middle">)</text><path d="M913.3 681.5h11" fill="none" stroke="#eee" stroke-width="1.8"/><path d="M908.3 681.5l4.5 -3v6z" fill="#eee"/><text x="915.8" y="692.5" font-size="6.6" font-weight="bold" text-anchor="middle">BACK</text><text x="505.4" y="718.1" font-size="9" font-weight="bold" text-anchor="middle">Tab</text><text x="542.7" y="719.8" font-size="13.2" text-anchor="middle" stroke="#eee" stroke-width="0.15">Q</text><text x="580" y="719.8" font-size="13.2" text-anchor="middle" stroke="#eee" stroke-width="0.15">W</text><text x="617.3" y="719.8" font-size="13.2" text-anchor="middle" stroke="#eee" stroke-width="0.15">E</text><text x="654.6" y="719.8" font-size="13.2" text-anchor="middle" stroke="#eee" stroke-width="0.15">R</text><text x="691.9" y="719.8" font-size="13.2" text-anchor="middle" stroke="#eee" stroke-width="0.15">T</text><text x="729.2" y="719.8" font-size="13.2" text-anchor="middle" stroke="#eee" stroke-width="0.15">Y</text><text x="766.6" y="719.8" font-size="13.2" text-anchor="middle" stroke="#eee" stroke-width="0.15">U</text><text x="803.9" y="719.8" font-size="13.2" text-anchor="middle" stroke="#eee" stroke-width="0.15">I</text><text x="841.2" y="719.8" font-size="13.2" text-anchor="middle" stroke="#eee" stroke-width="0.15">O</text><text x="878.5" y="719.8" font-size="13.2" text-anchor="middle" stroke="#eee" stroke-width="0.15">P</text><text x="911.3" y="719.8" font-size="11" font-weight="bold" text-anchor="middle">,</text><text x="920.3" y="714.8" font-size="8.5" font-weight="bold" text-anchor="middle">)</text><text x="505.4" y="746.4" font-size="7.5" font-weight="bold" text-anchor="middle">Caps</text><text x="542.7" y="748.7" font-size="13.2" text-anchor="middle" stroke="#eee" stroke-width="0.15">A</text><text x="580" y="748.7" font-size="13.2" text-anchor="middle" stroke="#eee" stroke-width="0.15">S</text><text x="617.3" y="748.7" font-size="13.2" text-anchor="middle" stroke="#eee" stroke-width="0.15">D</text><text x="654.6" y="748.7" font-size="13.2" text-anchor="middle" stroke="#eee" stroke-width="0.15">F</text><text x="691.9" y="748.7" font-size="13.2" text-anchor="middle" stroke="#eee" stroke-width="0.15">G</text><text x="729.2" y="748.7" font-size="13.2" text-anchor="middle" stroke="#eee" stroke-width="0.15">H</text><text x="766.6" y="748.7" font-size="13.2" text-anchor="middle" stroke="#eee" stroke-width="0.15">J</text><text x="803.9" y="748.7" font-size="13.2" text-anchor="middle" stroke="#eee" stroke-width="0.15">K</text><text x="841.2" y="748.7" font-size="13.2" text-anchor="middle" stroke="#eee" stroke-width="0.15">L</text><path d="M876.1 742.2h10v-4" fill="none" stroke="#eee" stroke-width="1.6"/><path d="M873.1 742.2l4 -2.6v5.2z" fill="#eee"/><text x="905.1" y="744.7" font-size="9.5" font-weight="bold" text-anchor="middle">Enter</text><text x="898.1" y="751.9" font-size="4.2" fill="#8fb6e8" text-anchor="middle" textLength="42">CTRL+ALT+DEL</text><text x="505.4" y="775.3" font-size="7.5" font-weight="bold" text-anchor="middle">Shift</text><text x="542.7" y="777.6" font-size="13.2" text-anchor="middle" stroke="#eee" stroke-width="0.15">Z</text><text x="580" y="777.6" font-size="13.2" text-anchor="middle" stroke="#eee" stroke-width="0.15">X</text><text x="617.3" y="777.6" font-size="13.2" text-anchor="middle" stroke="#eee" stroke-width="0.15">C</text><text x="654.6" y="777.6" font-size="13.2" text-anchor="middle" stroke="#eee" stroke-width="0.15">V</text><text x="691.9" y="777.6" font-size="13.2" text-anchor="middle" stroke="#eee" stroke-width="0.15">B</text><text x="729.2" y="777.6" font-size="13.2" text-anchor="middle" stroke="#eee" stroke-width="0.15">N</text><text x="766.6" y="777.6" font-size="13.2" text-anchor="middle" stroke="#eee" stroke-width="0.15">M</text><text x="799.4" y="777.6" font-size="11" font-weight="bold" text-anchor="middle">,</text><text x="808.4" y="772.6" font-size="8.5" font-weight="bold" text-anchor="middle">&lt;</text><text x="836.7" y="777.6" font-size="11" font-weight="bold" text-anchor="middle">.</text><text x="845.7" y="772.6" font-size="8.5" font-weight="bold" text-anchor="middle">&gt;</text><text x="878.5" y="776.1" font-size="11" font-weight="bold" text-anchor="middle">ç</text><path d="M912.3 770.1l3.5 -3.5l3.5 3.5" fill="none" stroke="#eee" stroke-width="1.5"/><path d="M911.6 778.1q2.2 -3 4.2 -1t4.2 -1" fill="none" stroke="#eee" stroke-width="1.5"/><text x="505.4" y="805" font-size="11" font-weight="bold" text-anchor="middle">Fn</text><text x="542.7" y="803.8" font-size="7.8" font-weight="bold" text-anchor="middle">Ctrl</text><text x="575.5" y="806" font-size="11" font-weight="bold" text-anchor="middle">_</text><text x="584.5" y="801" font-size="8.5" font-weight="bold" text-anchor="middle">-</text><text x="612.8" y="806" font-size="11" font-weight="bold" text-anchor="middle">=</text><text x="621.8" y="801" font-size="8.5" font-weight="bold" text-anchor="middle">+</text><text x="654.6" y="803.8" font-size="7.8" font-weight="bold" text-anchor="middle">Alt</text><rect x="698.5" y="798.5" width="8" height="5.5" rx="1" fill="#4aa3e0"/><circle cx="707" cy="802.5" r="2" fill="#dfe9f5"/><path d="M711.5 802h2M715.5 802h2M719.5 802h2" stroke="#e6e6e6" stroke-width="1.6"/><text x="766.6" y="803.6" font-size="7.2" font-weight="bold" text-anchor="middle">AltGr</text><text x="803.9" y="803.8" font-size="7.8" font-weight="bold" text-anchor="middle">Win</text><text x="836.7" y="806" font-size="11" font-weight="bold" text-anchor="middle">,</text><text x="845.7" y="801" font-size="8.5" font-weight="bold" text-anchor="middle">`</text><text x="874" y="806" font-size="11" font-weight="bold" text-anchor="middle">[</text><text x="883" y="801" font-size="8.5" font-weight="bold" text-anchor="middle">(</text><text x="911.3" y="806" font-size="11" font-weight="bold" text-anchor="middle">;</text><text x="920.3" y="801" font-size="8.5" font-weight="bold" text-anchor="middle">:</text></g>
<rect x="469.6" y="670.7" width="7.6" height="11" rx="3.6" fill="none" stroke="#eee" stroke-width="1.6" transform="translate(-0.6 -1)"/><path d="M472.8 670.7v-4q0 -2 1.6 -3" fill="none" stroke="#eee" stroke-width="1.3"/><rect x="469.6" y="671.7" width="3.4" height="4" fill="#eee"/>
<rect x="470.9" y="728.9" width="7.6" height="11" rx="3.6" fill="none" stroke="#eee" stroke-width="1.6" transform="translate(-0.6 -1)"/><path d="M474.1 728.9v-4q0 -2 1.6 -3" fill="none" stroke="#eee" stroke-width="1.3"/><rect x="474.1" y="729.9" width="3.4" height="4" fill="#eee"/>
<text x="948.8" y="667.2" font-size="4.6" fill="#7fb0e8" text-anchor="middle">Home</text>
<text x="948.8" y="684.8" font-size="6.4" font-weight="bold" fill="#eee" text-anchor="middle">PgUp</text>
<text x="948.4" y="724.1" font-size="6.2" font-weight="bold" fill="#eee" text-anchor="middle">PgDn</text>
<text x="945.3" y="744.2" font-size="5.4" font-weight="bold" fill="#9cc0ee" text-anchor="middle">End</text>
<path d="M164.5 266.7C164.5 250.8 164.6 261.8 165.1 260.8C165.7 259.8 167.5 258.7 169 258.4C170.5 258.1 176.4 258.1 177.9 258.4C179.4 258.8 181.2 260.2 181.8 261.4C182.3 262.5 182.4 252.7 182.4 268.2C182.3 283.7 183.2 379.3 181.2 394.4C179.2 409.5 167.1 412.3 165.1 397.4C163.2 382.5 164.5 282.7 164.5 266.7Z" fill="url(#antg)"/>
<path d="M164.5 392.9L180.9 390L186.8 394.4L173.4 401.8L164.5 400.3Z" fill="#b8902f"/>
<path d="M152.7 461.2L262.5 555.4L431.8 487.9L431.8 477.6L262.5 536.9L152.7 447.9Z" fill="#8f979c" opacity="0.35" filter="url(#tbsh)" transform="translate(0,5)"/>
<path d="M148.3 421.6Q148.2 414.6 154.8 412.2L297.4 359.3Q312.4 353.7 325.2 363.3L425.5 438.3Q438.3 447.9 437.1 463.8L436.1 477.1Q435.4 487.1 426.1 490.8L277.4 551.1Q262.5 557.1 250.3 546.8L154.4 465.7Q149.1 461.2 149 454.2Z" fill="#161618"/>
<path d="M262.6 509.2Q262.5 507.2 264.4 506.6L424.5 452.9Q437.7 448.5 436.6 462.4L435.5 476.5Q434.8 486.5 425.5 490.2L274.2 551.4Q263.1 555.9 263 543.9Z" fill="url(#tbfr)"/>
<path d="M154.4 419.7Q148.2 414.6 155.7 411.8L297.4 359.3Q312.4 353.7 325.2 363.3L425.5 438.3Q438.3 447.9 423.2 453.2L279.5 503.7Q262.5 509.6 248.7 498.1Z" fill="url(#tbtop)"/>
<path d="M165.4 436L187.7 455.9L187.7 480.5L165.4 458.3Z" fill="#2b2b2e" stroke="#4a4a4e" stroke-width="0.8"/>
<path d="M166 436L187.4 455.3L187.4 463.6L166 444.3Z" fill="#d4d4d6"/>
<path d="M167.2 446.1L185.9 465.4L185.9 476.7L167.2 455Z" fill="#121214"/>
<path d="M189.8 458.3L212.6 479.6L212.6 504.3L189.8 480.5Z" fill="#2b2b2e" stroke="#4a4a4e" stroke-width="0.8"/>
<path d="M190.4 458.3L212.3 479L212.3 487.4L190.4 466.6Z" fill="#d4d4d6"/>
<path d="M191.6 468.3L210.9 489.1L210.9 500.4L191.6 477.3Z" fill="#121214"/>
<path d="M215 480.5L239.7 502.8L239.7 527.4L215 502.8Z" fill="#2b2b2e" stroke="#4a4a4e" stroke-width="0.8"/>
<path d="M215.6 480.5L239.4 502.2L239.4 510.5L215.6 488.8Z" fill="#d4d4d6"/>
<path d="M216.8 490.6L237.9 512.3L237.9 523.6L216.8 499.5Z" fill="#121214"/>
<ellipse cx="285.7" cy="421.1" rx="17" ry="11.5" fill="#f6f6f6" transform="rotate(-8 285.7 421.1)"/>
<rect x="283.7" y="415.1" width="4" height="7.5" rx="2" fill="#26262a" transform="rotate(-20 285.7 421.1)"/>
<path d="M281.2 422.6q1.5 5 7.5 1.8" fill="none" stroke="#26262a" stroke-width="1.2"/>
<text x="0" y="0" font-size="13.5" font-weight="bold" fill="#1db83a" stroke="#1db83a" stroke-width="0.5" textLength="46" lengthAdjust="spacingAndGlyphs" transform="translate(276.8 447.3) rotate(-19) skewX(30)">android</text>
<text x="0" y="0" font-size="13.5" font-weight="bold" fill="#f2f2f2" textLength="13" lengthAdjust="spacingAndGlyphs" transform="translate(322.5 431.5) rotate(-19) skewX(30)">tv</text>
<g transform="translate(294.6 517.6) skewY(-19)"><rect x="0" y="0" width="19" height="17" fill="#e9e9e9"/><path d="M2 3h3a5.5 5.5 0 0 1 0 11h-3zM17 3h-3a5.5 5.5 0 0 0 0 11h3z" fill="#19191b"/><rect x="0" y="19" width="19" height="3" fill="#9a9a9a"/><rect x="1" y="24" width="17" height="2.4" fill="#6d6d6d"/></g>
<ellipse cx="710" cy="327.2" rx="70" ry="4" fill="#c9c9c9" opacity="0.6" filter="url(#csh)"/>
<path d="M637.3 163.6L647.2 165L648.1 151.6L650.3 149.1L708.4 139.1L735 145.6L766.2 158.9L774.8 158.9L774.1 161.6L769.7 162.2L772.5 171.9L779.5 176.9L797.5 279.2L796.2 289.4L750.6 312L703.8 325.6L647.5 320.9L621.7 301.1Z" fill="#0b0b0d"/>
<path d="M637.3 163.6L647.8 165.2L630 302.2L621.7 300.6Z" fill="#121214"/>
<path d="M647.5 153.4L649.2 151.4Q650.9 149.4 656.9 148.6L705.6 142.2L695.6 241.7L635 244.1Z" fill="url(#cg1)"/>
<path d="M635 245L695.6 242.8L692 310L678.8 311.2L628 301.9Z" fill="url(#cg2)"/>
<path d="M650.3 149.1L708.4 139.1L710 141.7L650.9 151.6Z" fill="#18191c"/>
<path d="M708.4 139.1L716.6 147.2L719.4 313.6L692 310L695.6 241.7L705.6 142.2Z" fill="url(#cg4)"/>
<path d="M716.2 147.2L735 146.4L745.2 303.4L719.4 313.6Z" fill="#0c0708"/>
<path d="M716.6 166.2L735 165.6L744.1 298.8L719.4 301.9Z" fill="url(#cred)"/>
<g opacity="0.85" filter="url(#cb1)"><ellipse cx="721.6" cy="210" rx="1.7" ry="1.9" fill="#8a160f" transform="rotate(24 721.6 210)"/><ellipse cx="720.1" cy="215.5" rx="2.1" ry="1" fill="#2a0505" transform="rotate(107 720.1 215.5)"/><ellipse cx="719.8" cy="176.7" rx="1.7" ry="1.6" fill="#f05a40" transform="rotate(57 719.8 176.7)"/><ellipse cx="731.2" cy="250.3" rx="2.9" ry="1.4" fill="#3a0806" transform="rotate(56 731.2 250.3)"/><ellipse cx="731.9" cy="173.6" rx="2.5" ry="1.5" fill="#e4432e" transform="rotate(146 731.9 173.6)"/><ellipse cx="733.3" cy="208" rx="1.8" ry="1.6" fill="#5a0d0a" transform="rotate(48 733.3 208)"/><ellipse cx="729" cy="216.4" rx="2.8" ry="1.6" fill="#3a0806" transform="rotate(127 729 216.4)"/><ellipse cx="728.4" cy="256.8" rx="2.6" ry="2" fill="#e4432e" transform="rotate(92 728.4 256.8)"/><ellipse cx="732.8" cy="206.8" rx="3.3" ry="1" fill="#8a160f" transform="rotate(76 732.8 206.8)"/><ellipse cx="736.1" cy="236.4" rx="2.6" ry="1.6" fill="#8a160f" transform="rotate(18 736.1 236.4)"/><ellipse cx="725.3" cy="183" rx="2.4" ry="2" fill="#4a0a08" transform="rotate(107 725.3 183)"/><ellipse cx="728.8" cy="172.6" rx="2.8" ry="1.8" fill="#4a0a08" transform="rotate(80 728.8 172.6)"/><ellipse cx="725.2" cy="212.1" rx="2.9" ry="1.4" fill="#f05a40" transform="rotate(23 725.2 212.1)"/><ellipse cx="730.8" cy="291.5" rx="1.7" ry="1.8" fill="#8a160f" transform="rotate(79 730.8 291.5)"/><ellipse cx="739.5" cy="252.4" rx="2.6" ry="1.8" fill="#4a0a08" transform="rotate(171 739.5 252.4)"/><ellipse cx="735.8" cy="213" rx="2" ry="1" fill="#e4432e" transform="rotate(15 735.8 213)"/><ellipse cx="723.6" cy="196.1" rx="2.1" ry="1.4" fill="#8a160f" transform="rotate(127 723.6 196.1)"/><ellipse cx="725.6" cy="178.1" rx="2.2" ry="1.1" fill="#2a0505" transform="rotate(110 725.6 178.1)"/><ellipse cx="726.2" cy="280.9" rx="3.8" ry="1.7" fill="#f05a40" transform="rotate(97 726.2 280.9)"/><ellipse cx="723.8" cy="293.2" rx="1.9" ry="1.7" fill="#5a0d0a" transform="rotate(3 723.8 293.2)"/><ellipse cx="730.4" cy="231.2" rx="2.2" ry="1.1" fill="#e4432e" transform="rotate(136 730.4 231.2)"/><ellipse cx="729.3" cy="216" rx="3.1" ry="1.5" fill="#5a0d0a" transform="rotate(158 729.3 216)"/><ellipse cx="734.5" cy="253.5" rx="3.6" ry="1.8" fill="#f05a40" transform="rotate(174 734.5 253.5)"/><ellipse cx="728.3" cy="272.2" rx="2.5" ry="1.5" fill="#f05a40" transform="rotate(102 728.3 272.2)"/><ellipse cx="719.4" cy="175.7" rx="2.6" ry="1" fill="#5a0d0a" transform="rotate(153 719.4 175.7)"/><ellipse cx="718.3" cy="174.4" rx="2.8" ry="2" fill="#5a0d0a" transform="rotate(157 718.3 174.4)"/><ellipse cx="732" cy="170.8" rx="2.4" ry="1.7" fill="#2a0505" transform="rotate(88 732 170.8)"/><ellipse cx="728.9" cy="246.5" rx="3.5" ry="2.1" fill="#3a0806" transform="rotate(119 728.9 246.5)"/><ellipse cx="725.2" cy="230.6" rx="1.8" ry="1.3" fill="#5a0d0a" transform="rotate(67 725.2 230.6)"/><ellipse cx="732.3" cy="230.3" rx="1.7" ry="2" fill="#2a0505" transform="rotate(135 732.3 230.3)"/><ellipse cx="731.4" cy="215" rx="3.3" ry="1.3" fill="#3a0806" transform="rotate(164 731.4 215)"/><ellipse cx="735.1" cy="280.8" rx="2.7" ry="2" fill="#e4432e" transform="rotate(91 735.1 280.8)"/><ellipse cx="731.1" cy="268.8" rx="2.7" ry="1.7" fill="#4a0a08" transform="rotate(156 731.1 268.8)"/><ellipse cx="740.8" cy="274" rx="2" ry="1.2" fill="#4a0a08" transform="rotate(102 740.8 274)"/><ellipse cx="724.6" cy="264.6" rx="2.7" ry="1.8" fill="#2a0505" transform="rotate(7 724.6 264.6)"/><ellipse cx="729.9" cy="271.2" rx="3.1" ry="2" fill="#5a0d0a" transform="rotate(114 729.9 271.2)"/><ellipse cx="735.3" cy="273.6" rx="3.7" ry="1.3" fill="#e4432e" transform="rotate(56 735.3 273.6)"/><ellipse cx="726" cy="180.9" rx="2" ry="1.6" fill="#e4432e" transform="rotate(156 726 180.9)"/><ellipse cx="730.4" cy="277.8" rx="2.4" ry="1.7" fill="#8a160f" transform="rotate(169 730.4 277.8)"/><ellipse cx="724.8" cy="183.2" rx="3.3" ry="1.5" fill="#8a160f" transform="rotate(45 724.8 183.2)"/><ellipse cx="731" cy="224.5" rx="3.4" ry="2.1" fill="#3a0806" transform="rotate(101 731 224.5)"/><ellipse cx="733.2" cy="228.3" rx="3.2" ry="1.1" fill="#3a0806" transform="rotate(32 733.2 228.3)"/><ellipse cx="727.5" cy="171.1" rx="3.4" ry="1.1" fill="#f05a40" transform="rotate(152 727.5 171.1)"/><ellipse cx="735.1" cy="296.2" rx="1.9" ry="1.6" fill="#e4432e" transform="rotate(5 735.1 296.2)"/><ellipse cx="733.4" cy="169.4" rx="1.8" ry="1.8" fill="#8a160f" transform="rotate(35 733.4 169.4)"/><ellipse cx="735.3" cy="224.4" rx="3.5" ry="0.9" fill="#4a0a08" transform="rotate(54 735.3 224.4)"/><ellipse cx="723.1" cy="206" rx="2.3" ry="1.6" fill="#2a0505" transform="rotate(33 723.1 206)"/><ellipse cx="730.1" cy="175.5" rx="3.1" ry="1.9" fill="#f05a40" transform="rotate(132 730.1 175.5)"/><ellipse cx="736" cy="222.7" rx="1.9" ry="1.1" fill="#2a0505" transform="rotate(130 736 222.7)"/><ellipse cx="725.1" cy="170" rx="2.9" ry="1.8" fill="#5a0d0a" transform="rotate(38 725.1 170)"/><ellipse cx="726.5" cy="190.1" rx="1.9" ry="1" fill="#8a160f" transform="rotate(174 726.5 190.1)"/><ellipse cx="730" cy="235.5" rx="3.3" ry="2" fill="#4a0a08" transform="rotate(14 730 235.5)"/><ellipse cx="723.5" cy="200.1" rx="1.8" ry="1.4" fill="#4a0a08" transform="rotate(7 723.5 200.1)"/><ellipse cx="738.8" cy="267.2" rx="2.3" ry="2.1" fill="#f05a40" transform="rotate(155 738.8 267.2)"/><ellipse cx="732.6" cy="234.7" rx="2.7" ry="1.9" fill="#f05a40" transform="rotate(129 732.6 234.7)"/><ellipse cx="735.7" cy="291.1" rx="3.6" ry="2" fill="#e4432e" transform="rotate(51 735.7 291.1)"/><ellipse cx="723.1" cy="277.7" rx="2.5" ry="1.3" fill="#3a0806" transform="rotate(171 723.1 277.7)"/><ellipse cx="720" cy="199.1" rx="2.3" ry="1" fill="#8a160f" transform="rotate(39 720 199.1)"/><ellipse cx="734.5" cy="290.8" rx="1.9" ry="2" fill="#e4432e" transform="rotate(119 734.5 290.8)"/><ellipse cx="734.9" cy="196.3" rx="3.5" ry="1.1" fill="#f05a40" transform="rotate(170 734.9 196.3)"/><ellipse cx="723.6" cy="276.8" rx="3.8" ry="1.4" fill="#f05a40" transform="rotate(107 723.6 276.8)"/><ellipse cx="724" cy="193.2" rx="2.4" ry="1.3" fill="#8a160f" transform="rotate(117 724 193.2)"/><ellipse cx="719.6" cy="225.3" rx="2.7" ry="1.3" fill="#e4432e" transform="rotate(16 719.6 225.3)"/><ellipse cx="733.4" cy="182.3" rx="3.7" ry="1" fill="#5a0d0a" transform="rotate(67 733.4 182.3)"/><ellipse cx="734.6" cy="203.2" rx="2.2" ry="1.1" fill="#5a0d0a" transform="rotate(108 734.6 203.2)"/><ellipse cx="734.6" cy="279" rx="2.5" ry="1.5" fill="#e4432e" transform="rotate(131 734.6 279)"/><ellipse cx="733.1" cy="242.4" rx="2.2" ry="1.9" fill="#3a0806" transform="rotate(46 733.1 242.4)"/><ellipse cx="720.5" cy="223.3" rx="3" ry="1.9" fill="#3a0806" transform="rotate(21 720.5 223.3)"/><ellipse cx="724" cy="247.3" rx="3.5" ry="1.4" fill="#e4432e" transform="rotate(86 724 247.3)"/><ellipse cx="729.9" cy="298" rx="3" ry="1" fill="#e4432e" transform="rotate(61 729.9 298)"/><ellipse cx="741.6" cy="290.6" rx="1.7" ry="1.1" fill="#e4432e" transform="rotate(79 741.6 290.6)"/><ellipse cx="730.2" cy="250" rx="2.2" ry="1.5" fill="#5a0d0a" transform="rotate(45 730.2 250)"/><ellipse cx="732.8" cy="203" rx="1.7" ry="0.9" fill="#e4432e" transform="rotate(129 732.8 203)"/><ellipse cx="723.1" cy="239.8" rx="2.1" ry="1.4" fill="#f05a40" transform="rotate(168 723.1 239.8)"/><ellipse cx="729.2" cy="275" rx="2.8" ry="2" fill="#f05a40" transform="rotate(129 729.2 275)"/><ellipse cx="722.7" cy="207.9" rx="2.4" ry="1.9" fill="#5a0d0a" transform="rotate(180 722.7 207.9)"/><ellipse cx="722.8" cy="263.2" rx="3.8" ry="1.9" fill="#e4432e" transform="rotate(3 722.8 263.2)"/><ellipse cx="730.2" cy="176.8" rx="2.5" ry="1" fill="#e4432e" transform="rotate(170 730.2 176.8)"/><ellipse cx="738.6" cy="277.9" rx="3.7" ry="1.6" fill="#8a160f" transform="rotate(177 738.6 277.9)"/><ellipse cx="726.9" cy="206" rx="2.2" ry="0.9" fill="#5a0d0a" transform="rotate(93 726.9 206)"/><ellipse cx="741.9" cy="293.7" rx="2.3" ry="0.9" fill="#2a0505" transform="rotate(79 741.9 293.7)"/><ellipse cx="721.8" cy="196.1" rx="2.4" ry="1.5" fill="#e4432e" transform="rotate(128 721.8 196.1)"/><ellipse cx="724.7" cy="253.6" rx="1.6" ry="1.2" fill="#4a0a08" transform="rotate(22 724.7 253.6)"/><ellipse cx="728.2" cy="186.4" rx="1.6" ry="1.3" fill="#f05a40" transform="rotate(59 728.2 186.4)"/><ellipse cx="733.8" cy="178.6" rx="3.3" ry="1.7" fill="#4a0a08" transform="rotate(152 733.8 178.6)"/><ellipse cx="725" cy="218.6" rx="1.9" ry="1.8" fill="#f05a40" transform="rotate(164 725 218.6)"/><ellipse cx="732.2" cy="186.5" rx="3.6" ry="1.7" fill="#8a160f" transform="rotate(179 732.2 186.5)"/><ellipse cx="723.1" cy="274.1" rx="3.3" ry="1.6" fill="#2a0505" transform="rotate(4 723.1 274.1)"/><ellipse cx="732.5" cy="276" rx="3.1" ry="1.7" fill="#8a160f" transform="rotate(58 732.5 276)"/><ellipse cx="719" cy="178.7" rx="2.4" ry="1" fill="#8a160f" transform="rotate(115 719 178.7)"/><ellipse cx="731.6" cy="240.8" rx="2.8" ry="1.2" fill="#8a160f" transform="rotate(67 731.6 240.8)"/><ellipse cx="730.6" cy="167.9" rx="3.7" ry="2" fill="#8a160f" transform="rotate(23 730.6 167.9)"/><ellipse cx="721.1" cy="254" rx="2.6" ry="1.9" fill="#8a160f" transform="rotate(67 721.1 254)"/><ellipse cx="731.7" cy="198.3" rx="3.2" ry="2.1" fill="#5a0d0a" transform="rotate(126 731.7 198.3)"/><ellipse cx="721.9" cy="278.5" rx="2.2" ry="1" fill="#8a160f" transform="rotate(161 721.9 278.5)"/><ellipse cx="721.3" cy="251.9" rx="2.3" ry="1.7" fill="#5a0d0a" transform="rotate(177 721.3 251.9)"/><ellipse cx="728.9" cy="207.5" rx="2.7" ry="1.5" fill="#3a0806" transform="rotate(172 728.9 207.5)"/><ellipse cx="721.9" cy="180.6" rx="2.2" ry="1.5" fill="#f05a40" transform="rotate(118 721.9 180.6)"/><ellipse cx="733.6" cy="228.6" rx="2" ry="2.1" fill="#2a0505" transform="rotate(121 733.6 228.6)"/><ellipse cx="725.4" cy="169.8" rx="2.7" ry="2.1" fill="#4a0a08" transform="rotate(68 725.4 169.8)"/><ellipse cx="735.7" cy="218.3" rx="1.8" ry="1" fill="#5a0d0a" transform="rotate(134 735.7 218.3)"/><ellipse cx="725" cy="201.9" rx="3.4" ry="1.5" fill="#2a0505" transform="rotate(28 725 201.9)"/><ellipse cx="724.6" cy="259.8" rx="2.5" ry="1.1" fill="#f05a40" transform="rotate(125 724.6 259.8)"/><ellipse cx="728" cy="257" rx="1.9" ry="1.3" fill="#8a160f" transform="rotate(80 728 257)"/><ellipse cx="723.9" cy="183.4" rx="3.3" ry="1.9" fill="#e4432e" transform="rotate(30 723.9 183.4)"/><ellipse cx="724.7" cy="290.9" rx="3.6" ry="1.2" fill="#3a0806" transform="rotate(95 724.7 290.9)"/><ellipse cx="724.6" cy="176" rx="2.9" ry="1.3" fill="#4a0a08" transform="rotate(109 724.6 176)"/><ellipse cx="737.6" cy="266.7" rx="1.8" ry="1.9" fill="#e4432e" transform="rotate(73 737.6 266.7)"/><ellipse cx="722.7" cy="250.8" rx="2.6" ry="1.3" fill="#e4432e" transform="rotate(95 722.7 250.8)"/><ellipse cx="729" cy="270.5" rx="3.4" ry="1.7" fill="#3a0806" transform="rotate(141 729 270.5)"/></g>
<path d="M717.5 206.2L735.9 205.9L736.2 212.8L717.8 213.1Z" fill="#f0b4b4"/>
<path d="M718.8 207.7L734.7 207.3L735 211.6L719.1 211.9Z" fill="#fde9e9"/>
<path d="M718.9 254.4L739.1 254.1L739.4 260.9L719.2 261.2Z" fill="#f0b4b4"/>
<path d="M720.2 255.8L737.8 255.5L738.1 259.7L720.5 260Z" fill="#fde9e9"/>
<path d="M735 145.6L766.2 159.7L772.5 172.2L797.2 279.2L794.4 289.4L750.6 310.5L745.6 305Z" fill="url(#cg3)"/>
<path d="M735 145.6L739.1 147.5L749.4 308.1L745.6 305Z" fill="#17181b"/>
<path d="M785 272.2l7 -2M785 274.7l7 -2M785 277.2l7 -2M785 279.7l7 -2" stroke="#141418" stroke-width="0.9"/>
<path d="M635 244.5L695.6 242.2" stroke="#55565b" stroke-width="0.6" fill="none"/>
<path d="M666.7 167.2q6 -4.5 11.5 -1q0.5 7 -4.5 12.5q-6.5 -3 -7 -11.5z" fill="#5a1512" stroke="#d0302a" stroke-width="1.3"/>
<path d="M670 172.2q3.5 -1.5 6.5 0.5" fill="none" stroke="#e8483c" stroke-width="1.2"/>
<path d="M661.6 190.2l17 -1.6" stroke="#c8281e" stroke-width="2.6" stroke-dasharray="5 1.2 3 1 4 1"/>
<path d="M959.8 409.2L964.6 411.6Q969.1 413.8 967.8 418.6L966.7 422.9Q964.6 430.6 970.3 436.3L972 438Q976.2 442.2 981 445.9L990.8 453.1Q998.8 459.1 1007.4 464.2L1027.9 476.4Q1040 483.5 1053.1 486.9L1056.6 487.8Q1066.2 490.2 1076 492.3L1080.7 493.3Q1094.4 496.2 1103.8 495.9L1103.8 495.9Q1113.1 495.5 1118.3 491.2L1118.3 491.2Q1123.4 486.9 1128.2 480.5L1135.5 470.8Q1140.3 464.4 1144.3 457.4L1154.5 439.4Q1158.5 432.5 1161.9 425.3L1172.9 402.4Q1174.6 398.8 1174.6 394.8L1174.6 382.8L1118.8 413.8L1006.2 408.1Z" fill="#0a0b0e"/>
<path d="M970.2 413.4L1089.7 461L1089.1 493.4L1040 482.2L978.1 442.8L967.2 431.6L968.8 422.2Z" fill="url(#pjf)"/>
<path d="M1090.2 461.6C1089.8 464.2 1087.9 472.2 1087.8 477.5C1087.7 482.8 1089.4 490.8 1089.7 493.4" fill="none" stroke="#a8adb4" stroke-width="1.3"/>
<path d="M969.7 413.4C970.1 415.3 970.7 420.2 972.1 425C973.5 429.8 977.1 439.1 978.1 441.9" fill="none" stroke="#8a9098" stroke-width="1"/>
<path d="M959 407.4C959 399.6 983.7 383.8 996.9 372.9C1010.1 361.9 1028.4 347.8 1038.1 341.6C1047.8 335.3 1047.8 336.7 1055 335.4C1062.2 334.1 1070.6 333.5 1081.2 333.9C1091.9 334.3 1107.8 335.4 1118.8 337.8C1129.7 340.2 1139.1 343.6 1146.9 348.1C1154.7 352.7 1161 359.3 1165.6 365C1170.2 370.7 1173.7 377.5 1174.6 382.2C1175.6 387 1175.6 385.1 1171.2 393.5C1166.9 401.9 1156.1 420.5 1148.8 432.5C1141.4 444.5 1132 459 1127.2 465.3C1122.3 471.6 1122.8 469.8 1119.7 470.4C1116.6 470.9 1113.4 470.1 1108.4 468.5C1103.4 466.9 1101.1 466.3 1089.7 461C1078.3 455.7 1055.5 443.5 1040 436.6C1024.5 429.8 1010.4 424.6 996.9 419.8C983.4 414.9 959 415.2 959 407.4Z" fill="url(#pjt)"/>
<g clip-path="url(#pjclip)"><path d="M950 408.1L957.5 406.2L1040 331.2L1055 331.2L1043.8 366.9L1038.1 378.1L1024.1 403.4L987.5 408.1Z" fill="url(#pjl1)"/><path d="M1024.1 403.4C1030.5 400.5 1049.8 390.6 1062.5 385.6C1075.2 380.6 1087.5 376.7 1100 373.4C1112.5 370.2 1124.4 367.8 1137.5 365.9C1150.6 364.1 1171.9 362.8 1178.8 362.2 L1178.8 327.5 L1055 327.5 L1043.8 366.9 L1038.1 378.1 Z" fill="url(#pjl2)"/><path d="M1024.1 403.4C1030.5 400.5 1049.8 390.6 1062.5 385.6C1075.2 380.6 1087.5 376.7 1100 373.4C1112.5 370.2 1124.4 367.8 1137.5 365.9C1150.6 364.1 1171.9 362.8 1178.8 362.2" fill="none" stroke="#f6f7f8" stroke-width="2.2" opacity="0.9" filter="url(#pjb1)"/><path d="M1024.1 403.4C1030.5 400.5 1049.8 390.6 1062.5 385.6C1075.2 380.6 1087.5 376.7 1100 373.4C1112.5 370.2 1124.4 367.8 1137.5 365.9C1150.6 364.1 1171.9 362.8 1178.8 362.2 L1178.8 488.8 L950 488.8 L950 408.1 Z" fill="url(#pjl3)"/><path d="M961.2 407.8L1024.1 403.4" fill="none" stroke="#c9ccd0" stroke-width="1" opacity="0.8"/><path d="M1111.2 376.2L1116.9 375.3L1111.2 470L1105.6 470Z" fill="#d4d6da" opacity="0.35" filter="url(#pjb1)"/><path d="M1137.5 376.2L1142 375.3L1136.4 470L1131.9 470Z" fill="#d4d6da" opacity="0.3" filter="url(#pjb1)"/><path d="M1081.2 376.2L1085 375.3L1079.4 470L1075.6 470Z" fill="#d4d6da" opacity="0.2" filter="url(#pjb1)"/><path d="M1174.6 383.8C1174 385.5 1175.2 385.9 1170.9 394.1C1166.6 402.2 1156 420.6 1148.8 432.5C1141.5 444.4 1132 459.1 1127.2 465.3C1122.3 471.6 1120.9 469.2 1119.7 470" fill="none" stroke="#c4c7cc" stroke-width="3" opacity="0.7" filter="url(#pjb1)"/></g>
<ellipse cx="1024.1" cy="454.1" rx="29.6" ry="25.9" fill="url(#pjl)" transform="rotate(32 1024.1 454.1)"/>
<ellipse cx="1022.3" cy="455.6" rx="25.5" ry="21.8" fill="#c9ccd0" transform="rotate(32 1024.1 454.1)"/>
<ellipse cx="1020.1" cy="458.1" rx="21" ry="17.6" fill="#111318" transform="rotate(32 1024.1 454.1)"/>
<ellipse cx="1022.2" cy="454.6" rx="13.1" ry="11.2" fill="url(#pjb)" transform="rotate(32 1022.2 454.6)"/>
<ellipse cx="1023.7" cy="453.6" rx="1.6" ry="2.8" fill="#0c2044" transform="rotate(25 1022.2 454.6)"/>
<rect x="970.6" y="975.2" width="113.8" height="30.6" fill="url(#pcs)" opacity="0.45"/>
<path d="M1030.8 827Q1030.8 824 1032.8 821.8L1083.1 766.6Q1089.9 759.3 1095.9 757.5L1095.9 757.5Q1101.9 755.8 1112.8 754.9L1112.8 754.9Q1123.8 754 1133.6 755.5L1133.6 755.5Q1143.5 757.1 1149.8 762.2L1151.5 763.6Q1156.2 767.4 1156.5 773.3L1160.9 860.5Q1161 862.5 1161.8 864.3L1173.3 888.3Q1174.6 891 1174.6 894L1175.4 994.5Q1175.4 996.5 1173.4 996.6L1101.7 1001.6Q1099.7 1001.7 1098.6 1000.1L1084.5 980Q1082.2 976.8 1078.2 976.5L1037.9 973.7Q1031.9 973.3 1031.8 967.3Z" fill="#0a0a0c"/>
<path d="M1033 826.2L1083.3 771.9L1082.2 871.3L1064.7 880L1056 897.5L1057 950.1L1033 950.1Z" fill="url(#pcside)"/>
<path d="M1033.6 891L1053.8 888.8L1054.9 949L1033.6 950.1Z" fill="#060607"/>
<path d="M1083.3 772.8L1095.8 772.4L1094.2 871.3L1083.3 873.9Z" fill="url(#pcbev)"/>
<path d="M1095.8 775L1098 775L1104.1 858.2L1098.6 880L1097.1 862.5Z" fill="#55575c" opacity="0.8"/>
<path d="M1097.5 772.8L1129.3 780.5L1157 776.1L1161 863.6L1136.9 878.3L1104.5 861.4Z" fill="url(#pcfu)"/>
<path d="M1104.5 862.1L1136.9 879.2L1161 864.3L1172.4 891.4L1170.2 955.5L1139.5 978.9L1099.7 950.5L1098.4 881.1Z" fill="url(#pcfl)"/>
<path d="M1106.3 862.5L1136.9 878.7L1150 871.3" fill="none" stroke="#9a9ca0" stroke-width="1.1" opacity="0.85"/>
<path d="M1099.3 880L1104.5 862.5L1103.7 893.2L1100.6 943.5L1098.6 936.9Z" fill="#8a8083" opacity="0.7"/>
<path d="M1161.4 865.2L1171.5 892.1L1169.3 954.4" fill="none" stroke="#7a1a1e" stroke-width="1"/>
<path d="M1063 880.5L1080.5 872.6L1094 880L1094 970.2L1082.2 972.4L1065.1 938Z" fill="#1c1c1f" stroke="#5d5e63" stroke-width="1.2" stroke-linejoin="round"/>
<path d="M1080.5 873L1079.6 958.8" fill="none" stroke="#5d5e63" stroke-width="1.1"/>
<path d="M1082.2 884.4L1092.7 882.2L1092.7 963.2L1083.1 965.4Z" fill="#2a2b2e"/>
<path d="M0 -11 L2.2 -3.5 L5.5 -7 Q4.5 -10 7 -12 L9.5 -9 Q12 -11 12.5 -15 L20 -21 Q17.5 -13 19 -9.5 Q14 -1 3.6 4 L2.2 9 L0.8 33 L-0.8 9 L-2.6 4 Q-13 -1 -18 -9.5 Q-16.5 -13 -20 -22 L-12.5 -15 Q-12 -11 -9.5 -9 L-7 -12 Q-4.5 -10 -5.5 -7 L-2.2 -3.5 Z" fill="#e02a24" transform="translate(1137.6 900.8) scale(1.02)"/>
<rect x="1150" y="946.8" width="15.5" height="5" fill="#c9252a"/>
<path d="M1097 961.9Q1097.1 959.9 1098.8 960.9L1123.2 975.7Q1124.9 976.8 1126.1 978.3L1128.7 981.7Q1129.9 983.3 1128 983.9L1104.9 991.5Q1103 992.1 1101.8 990.4L1096.9 983.4Q1095.8 981.8 1095.9 979.8Z" fill="url(#pcr)"/>
<path d="M1166.5 964.5Q1168 963.2 1167.9 965.2L1166.8 983.5Q1166.7 985.5 1164.7 985.2L1149.4 982.4Q1147.4 982 1148.9 980.7Z" fill="url(#pcr)"/>
<path d="M1100.2 949.6L1141.3 978.5" fill="none" stroke="#a81d1c" stroke-width="2"/>
<path d="M1091.4 761.9L1128.2 771.9L1129.3 775L1091.8 765.4Z" fill="#d8322c"/>
<path d="M1131.7 771.9L1156.2 769.3L1156.8 772.8L1131.9 775.4Z" fill="#d8322c"/>
<path d="M1084 976.8L1087 977.6L1100.2 1000.4L1097.5 1000.8Z" fill="#d9dadc"/>
<path d="M200.3 956.3C199.2 957.3 194.2 960 193.8 962.2C193.4 964.3 188.3 965.9 198 969.2C207.7 972.5 235.9 978.6 251.9 982.1C267.9 985.6 285.5 989.3 294.1 990.3C302.7 991.3 300.6 989.5 303.5 988C306.4 986.4 310.3 982.1 311.7 980.9" fill="none" stroke="url(#tvst)" stroke-width="4.4" stroke-linecap="round"/>
<path d="M201.5 959.8C201.3 960.8 191.9 962.7 200.3 965.7C208.7 968.7 236.7 974.6 251.9 977.9C267.1 981.2 283.4 984.7 291.8 985.6C300.2 986.5 300.6 983.7 302.3 983.3" fill="none" stroke="#e9e6f5" stroke-width="1.2"/>
<ellipse cx="328.1" cy="982.1" rx="7" ry="3.2" fill="#111"/>
<path d="M390.7 770.2L395.9 771.6L396.8 993.3L393 994.3Z" fill="#c58a5c"/>
<path d="M394.9 771.6L396.1 771.8L397 993.3L395.9 993.8Z" fill="#7a4a2a"/>
<path d="M149.9 944.1L394.4 992.9L394.4 994.8L149.9 945.5Z" fill="#b5835c"/>
<path d="M149.9 786.3L392.1 770.2L394.4 993.8L149.9 944.6Z" fill="#050506"/>
<path d="M192.1 840.5L214.4 840.5L214.4 860.8L192.1 860.2Z" fill="#1f3c63"/>
<path d="M216.3 840.5L239.7 840.5L239.7 861.5L216.3 860.9Z" fill="#1e3960"/>
<path d="M242.1 840.5L267.8 840.5L267.8 862.3L242.1 861.6Z" fill="#2a5f9c"/>
<path d="M269.5 840.5L297.9 840.5L297.9 863.1L269.5 862.4Z" fill="#2a5a96"/>
<path d="M300 840.5L330 840.5L330 864L300 863.2Z" fill="#f4f4f4"/>
<path d="M332.1 840.5L365.8 840.5L365.8 865.1L332.1 864.1Z" fill="#f6f6f6"/>
<path d="M368 840.5L392.1 840.5L392.1 865.8L368 865.1Z" fill="#1d3a60"/>
<text x="203.1" y="853.2" font-size="5.5" font-weight="bold" fill="#dfe6ee" text-anchor="middle">Z</text>
<circle cx="227.5" cy="850.3" r="3.3" fill="#e0782a"/>
<path d="M243.9 843.8L252.4 843.8L253.3 856L243.9 856Z" fill="#f1cf3a"/>
<path d="M254.7 848.5L264.8 848.5L264.8 850.3L254.7 850.3Z" fill="#cfe0f0"/>
<ellipse cx="275.4" cy="850.3" rx="3" ry="4.5" fill="#d8ecfb"/>
<path d="M285.2 848.5L294.1 848.5L294.1 853.2L285.2 853.2Z" fill="#b8cfe6"/>
<path d="M304 849.6L310 849.6L310 855.5L304 855.5Z" fill="#d42a2a"/>
<path d="M311.9 850.8L326 850.8L326 854.6L311.9 854.6Z" fill="#33363c"/>
<path d="M336.3 848L341.9 852.2L336.3 857.4Z" fill="#d32c3a"/>
<path d="M344.5 849.6L362.1 849.6L362.1 851.3L344.5 851.3Z" fill="#e6a0a8"/>
<path d="M344.5 854.3L362.1 854.6L362.1 856.2L344.5 856Z" fill="#e6a0a8"/>
<path d="M381.2 854.8h11M386.7 848.8v12" stroke="#e8eef5" stroke-width="1.3"/>
<ellipse cx="170.3" cy="846.6" rx="5.9" ry="7" fill="#e0452f"/>
<ellipse cx="170.3" cy="887.1" rx="5.7" ry="6.8" fill="#1d78d6"/>
<ellipse cx="170.3" cy="932.4" rx="6.4" ry="7.7" fill="#e63a30"/>
<rect x="168.1" y="843.4" width="1.5" height="6.5" fill="#ffd9cf"/><rect x="171.1" y="843.4" width="1.5" height="6.5" fill="#ffd9cf"/>
<path d="M168.7 884.3l4.5 2.8l-4.5 2.8z" fill="#eaf3ff"/>
<ellipse cx="170.3" cy="932.4" rx="5" ry="6" fill="#fbecea"/><rect x="167.3" y="930.2" width="6" height="4.4" rx="1" fill="#e02a25"/>
<rect x="167.8" y="859.7" width="5" height="1" fill="#8a8f98"/>
<rect x="167.8" y="900" width="5" height="1" fill="#8a8f98"/>
<rect x="167.8" y="945.1" width="5" height="1" fill="#8a8f98"/>
<path d="M192.1 870.7L239.7 872.4L239.7 914.1L192.1 909.4Z" fill="#1c55c4"/>
<path d="M200.3 890.7L209.7 890.2L212.1 904.7L199.2 903.6Z" fill="#dbe8fa"/>
<path d="M219.1 894.2L239.7 895.4L239.7 911.8L219.1 909.4Z" fill="#5f8fdc"/>
<path d="M223.8 876.6L239.7 877.8L239.7 890.7L223.8 888.8Z" fill="#2d3f9a"/>
<path d="M192.1 917.6L239.7 923.5L239.7 962.2L192.1 953.5Z" fill="#7aa17c"/>
<path d="M192.1 917.6L212.1 920L207.4 953.5L192.1 953Z" fill="#3f8a4a"/>
<path d="M216.7 937.6L239.7 928.2L239.7 962.2L219.1 958.6Z" fill="#a9adb3"/>
<path d="M219.1 935.2L239.7 924L239.7 928.2L221.4 938.7Z" fill="#d23a2a"/>
<ellipse cx="200.3" cy="930.5" rx="4.5" ry="5.5" fill="#e8c4a8"/>
<path d="M241.4 924.7L297.6 931.7L297.6 973.9L241.4 963.3Z" fill="#3a2a22"/>
<path d="M241.4 949.3L297.6 958.2L297.6 973.9L241.4 963.3Z" fill="#b5702f"/>
<ellipse cx="268.3" cy="951.6" rx="6" ry="5" fill="#d9a27a"/>
<text font-size="8.2" font-weight="bold" fill="#e9e4dc" textLength="50" lengthAdjust="spacingAndGlyphs" transform="translate(243 941.1) rotate(7.5)">ICE CREAM</text>
<path d="M243 927L295.3 933.3L295.3 935.7L243 929.3Z" fill="#bdb7ae" opacity="0.7"/>
<path d="M300 934L366.8 944.1L366.8 987.3L300 974.6Z" fill="#8f9398"/>
<path d="M322.2 939.9L365.6 946.5L365.6 972.7L322.2 965.2Z" fill="#2b4f7e"/>
<path d="M301.6 958.6L315.2 961L315.2 975.1L301.6 972.7Z" fill="#d83a34"/>
<path d="M316.4 954L324.6 955.4L324.6 975.5L316.4 973.9Z" fill="#c9a44a"/>
<path d="M338.6 955.1L346.9 956.3L346.9 978.6L338.6 976.9Z" fill="#b0312f"/>
<path d="M368.7 943.4L393 947.4L393 991.9L368.7 987.3Z" fill="#d8d8d6"/>
<path d="M371.5 968L390.2 961L393 991.5L371.5 987.3Z" fill="#15151a"/>
<ellipse cx="386.7" cy="983.3" rx="4.5" ry="3.3" fill="#f1f1ee"/>
<ellipse cx="350.4" cy="807.9" rx="7.4" ry="9" fill="#f6f6f6"/><ellipse cx="350.4" cy="807.9" rx="3" ry="3.6" fill="#1a1a1a"/><circle cx="350.4" cy="807.9" r="1.1" fill="#f6f6f6"/>
<ellipse cx="332.1" cy="809.1" rx="3.2" ry="4" fill="none" stroke="#c9c9c9" stroke-width="0.9"/>
<rect x="361.3" y="804.9" width="1.6" height="6" fill="#aaa"/><rect x="366.3" y="804.9" width="1.6" height="6" fill="#aaa"/><rect x="371.3" y="804.9" width="1.6" height="6" fill="#888"/>
<rect x="345.9" y="824.6" width="9" height="1.8" fill="#cfcfcf"/>
<path d="M194.5 812.4L283.6 810.5" fill="none" stroke="#b9bcc2" stroke-width="1.6" stroke-dasharray="2.2 1 3.5 0.8 1.5 1.2 4 1 2.5 0.8" opacity="0.85"/>
<rect x="183.7" y="810.8" width="3.2" height="3.2" fill="#d9d9d9"/>
<circle cx="168.4" cy="809.4" r="1.2" fill="#4a8be8"/><circle cx="171.4" cy="812.9" r="1" fill="#e8b34a"/><circle cx="172.1" cy="815.9" r="0.9" fill="#d9d9d9"/>
<path d="M506.9 1155.8L670 1183.1L783.9 1155.8L670 1176.9Z" fill="#8a8a8a" opacity="0.5" filter="url(#lpb)"/>
<path d="M506.2 1152.4Q505.5 1149.9 510.4 1149L622.2 1129.1L784.6 1147.8Q787.6 1148.2 786.4 1151L786.2 1151.6Q784.8 1154.9 780.9 1155.8L676.3 1180.2Q671.4 1181.4 666.5 1180.6L510.8 1155.6Q506.9 1154.9 506.2 1152.4Z" fill="url(#lpbase)"/>
<path d="M506.3 1152.7Q505.8 1150.4 509.7 1151L670 1174.6L670.3 1178.4Q670.6 1181.4 667.6 1180.9L509.8 1155.4Q506.9 1154.9 506.3 1152.7Z" fill="#eceded"/>
<path d="M670 1174.6L785 1149.2Q787 1148.8 786.3 1150.6L785.8 1152.1Q784.8 1154.9 781.8 1155.6L674.3 1180.7Q671.4 1181.4 670.8 1178.4Z" fill="#b9babd"/>
<path d="M666.6 1174.1L675.6 1172.4L676.2 1180.2L667.8 1181.1Z" fill="#a4a5a8"/>
<path d="M579.4 1139.8L622.2 1132.4L752.1 1148.2L712.8 1158.3Z" fill="#18181a"/>
<path d="M615.1 1133.7L745.6 1149.9" stroke="#3b3b3f" stroke-width="0.6" fill="none"/>
<path d="M607.9 1134.9L739 1151.6" stroke="#3b3b3f" stroke-width="0.6" fill="none"/>
<path d="M600.8 1136.1L732.4 1153.2" stroke="#3b3b3f" stroke-width="0.6" fill="none"/>
<path d="M593.7 1137.3L725.9 1154.9" stroke="#3b3b3f" stroke-width="0.6" fill="none"/>
<path d="M586.6 1138.5L719.3 1156.6" stroke="#3b3b3f" stroke-width="0.6" fill="none"/>
<path d="M569.3 1157.8L608.1 1148.8L658.8 1155.8L622.2 1167Z" fill="#d2d3d6" stroke="#b4b5b8" stroke-width="0.5"/>
<path d="M568.8 1160L588.4 1163.4" stroke="#8d8e92" stroke-width="1.2" fill="none"/>
<path d="M728.5 1163.9L740.9 1161.2L740.9 1163.7L728.5 1166.5Z" fill="#2a2a2d"/>
<path d="M743.1 1160.6L748.2 1159.5L748.2 1162L743.1 1163.2Z" fill="#2a2a2d"/>
<path d="M750.4 1159L755.5 1157.9L755.5 1160.4L750.4 1161.5Z" fill="#2a2a2d"/>
<path d="M757.8 1157.4L761.1 1156.6L761.1 1159.1L757.8 1159.9Z" fill="#2a2a2d"/>
<path d="M763.4 1156.1L767.3 1155.2L767.3 1157.7L763.4 1158.6Z" fill="#2a2a2d"/>
<path d="M770.1 1152.1L775.2 1151L775.2 1156.6L770.1 1157.8Z" fill="#1a1a1c"/>
<path d="M777.4 1150.7L782.5 1149.6L782.5 1153.2L777.4 1154.4Z" fill="#d0d0d2"/>
<circle cx="718.4" cy="1166.8" r="0.9" fill="#333"/>
<circle cx="724" cy="1165.6" r="0.9" fill="#333"/>
<ellipse cx="510.2" cy="1151" rx="2" ry="1" fill="#f8f8f8"/>
<path d="M653.4 1002.3Q654.5 997.4 659.5 997.3L813.5 993.6Q818.5 993.5 817.6 998.4L789.3 1146.4Q788.7 1149.3 785.7 1148.9L627.4 1128.6Q624.4 1128.2 625.1 1125.3Z" fill="#0b0b0d"/>
<path d="M624.4 1128.2L788.7 1149.3L788.1 1151.6L623.9 1129.9Z" fill="#3a3a3d"/>
<path d="M656.5 1004.8L811.2 1001.9L783.1 1138.1L631.5 1119.8Z" fill="url(#lpd)"/>
<g clip-path="url(#lpclip)"><ellipse cx="698.8" cy="1039.1" rx="44.3" ry="37.7" fill="#e2589c" opacity="0.62" filter="url(#lpb2)"/><ellipse cx="711.9" cy="1034.2" rx="19.7" ry="32.8" fill="#f07ab0" opacity="0.45" filter="url(#lpb2)"/><path d="M705.3 1008L718.4 1008L718.4 1090L709.4 1090Z" fill="#f9c4e0" opacity="0.55" filter="url(#lpb)"/><path d="M685.6 1011.2L693.8 1009.6L707 1099.8L697.1 1103.1Z" fill="#f3a0cc" opacity="0.5" filter="url(#lpb)"/><path d="M661 1039.1L669.2 1035.9L698.8 1099.8L688.9 1103.1Z" fill="#e890c8" opacity="0.4" filter="url(#lpb)"/><path d="M718.4 1027.7L726.6 1029.3L720.1 1083.4L715.2 1083.4Z" fill="#f4a8d4" opacity="0.4" filter="url(#lpb)"/><path d="M721.7 1098.2L784.1 1083.4L785.7 1091.6L725 1104.8Z" fill="#d9a0dc" opacity="0.45" filter="url(#lpb)"/><path d="M652.8 1090L685.6 1083.4L688.9 1099.8L656.1 1098.2Z" fill="#a878d0" opacity="0.4" filter="url(#lpb)"/><ellipse cx="712.7" cy="1070.3" rx="6.6" ry="21.3" fill="#f3d0ea" opacity="0.5" filter="url(#lpb2)"/><path d="M775.9 1001.4L816.9 999.8L792.3 1140.9L759.5 1137.6Z" fill="#160a40" opacity="0.55" filter="url(#lpb2)"/><path d="M629.8 1109.7L784.1 1126.1L784.1 1142.5L626.6 1126.1Z" fill="#2a1260" opacity="0.5" filter="url(#lpb2)"/><path d="M656.5 1004.8L811.2 1001.9L810.6 1005L656.2 1007.8Z" fill="#ece8f0" opacity="0.92"/></g>
<path d="M647.5 1118.4L762.8 1130.2L767 1135.2L644.1 1122.9Z" fill="#c9c3d6" opacity="0.8"/>
<rect x="647.4" y="1115.2" width="3.6" height="4" rx="0.8" fill="#3a7bd5"/>
<rect x="653.3" y="1115.8" width="3.6" height="4" rx="0.8" fill="#e8e8f0"/>
<rect x="659.2" y="1116.5" width="3.6" height="4" rx="0.8" fill="#d94a3a"/>
<rect x="665.2" y="1117.1" width="3.6" height="4" rx="0.8" fill="#e6a23c"/>
<rect x="671.1" y="1117.7" width="3.6" height="4" rx="0.8" fill="#4aa85a"/>
<rect x="677" y="1118.3" width="3.6" height="4" rx="0.8" fill="#8a5ad0"/>
<rect x="682.9" y="1118.9" width="3.6" height="4" rx="0.8" fill="#f0f0f0"/>
<rect x="688.8" y="1119.6" width="3.6" height="4" rx="0.8" fill="#2a5aa8"/>
<rect x="694.8" y="1120.2" width="3.6" height="4" rx="0.8" fill="#d9d9e0"/>
<rect x="700.7" y="1120.8" width="3.6" height="4" rx="0.8" fill="#c43a7a"/>
<rect x="706.6" y="1121.4" width="3.6" height="4" rx="0.8" fill="#3a7bd5"/>
<rect x="712.5" y="1122.1" width="3.6" height="4" rx="0.8" fill="#e8e8f0"/>
<rect x="718.4" y="1122.7" width="3.6" height="4" rx="0.8" fill="#d94a3a"/>
<rect x="724.4" y="1123.3" width="3.6" height="4" rx="0.8" fill="#e6a23c"/>
<rect x="730.3" y="1123.9" width="3.6" height="4" rx="0.8" fill="#4aa85a"/>
<rect x="736.2" y="1124.5" width="3.6" height="4" rx="0.8" fill="#8a5ad0"/>
<rect x="742.1" y="1125.2" width="3.6" height="4" rx="0.8" fill="#f0f0f0"/>
<rect x="748" y="1125.8" width="3.6" height="4" rx="0.8" fill="#2a5aa8"/>
<rect x="754" y="1126.4" width="3.6" height="4" rx="0.8" fill="#d9d9e0"/>
<rect x="759.9" y="1127" width="3.6" height="4" rx="0.8" fill="#c43a7a"/>
<circle cx="776.3" cy="1024.4" r="0.8" fill="#e8d8f8" opacity="0.8"/>
<circle cx="784.8" cy="1086.3" r="0.8" fill="#e8d8f8" opacity="0.8"/>
<circle cx="658.8" cy="1081.2" r="0.8" fill="#e8d8f8" opacity="0.8"/>
<circle cx="792.3" cy="1030.6" r="0.8" fill="#e8d8f8" opacity="0.8"/>
<circle cx="118.8" cy="580.1" r="6.5" fill="#0a0a0a"/><text x="130.5" y="591.5" font-size="33" textLength="244" lengthAdjust="spacingAndGlyphs" fill="#0a0a0a" stroke="#0a0a0a" stroke-width="1.3" stroke-linejoin="round">Android TV box</text>
<circle cx="563.5" cy="110" r="6.5" fill="#0a0a0a"/><text x="576.5" y="121.4" font-size="33" textLength="391" lengthAdjust="spacingAndGlyphs" fill="#0a0a0a" stroke="#0a0a0a" stroke-width="1.3" stroke-linejoin="round">PS4/XBOX ONE Consoles</text>
<circle cx="1015" cy="524.2" r="6.5" fill="#0a0a0a"/><text x="1026.5" y="535.6" font-size="33" textLength="144.5" lengthAdjust="spacingAndGlyphs" fill="#0a0a0a" stroke="#0a0a0a" stroke-width="1.3" stroke-linejoin="round">Projector</text>
<circle cx="1097" cy="1030" r="6.5" fill="#0a0a0a"/><text x="1113" y="1041.4" font-size="33" textLength="37.5" lengthAdjust="spacingAndGlyphs" fill="#0a0a0a" stroke="#0a0a0a" stroke-width="1.3" stroke-linejoin="round">PC</text>
<circle cx="188" cy="1017.8" r="6.5" fill="#0a0a0a"/><text x="199.5" y="1029.2" font-size="33" textLength="143" lengthAdjust="spacingAndGlyphs" fill="#0a0a0a" stroke="#0a0a0a" stroke-width="1.3" stroke-linejoin="round">Smart TV</text>
<circle cx="609.2" cy="1209" r="6.5" fill="#0a0a0a"/><text x="620.8" y="1220.4" font-size="33" textLength="136.2" lengthAdjust="spacingAndGlyphs" fill="#0a0a0a" stroke="#0a0a0a" stroke-width="1.3" stroke-linejoin="round">Netbook</text>
</svg>
</body></html>
